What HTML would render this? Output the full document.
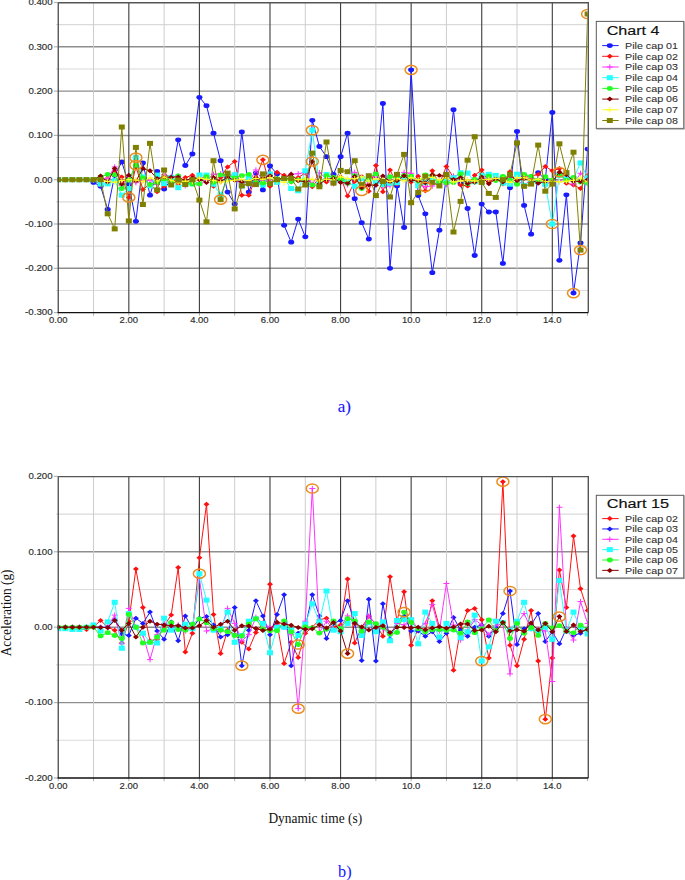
<!DOCTYPE html>
<html><head><meta charset="utf-8"><style>
html,body{margin:0;padding:0;background:#fff;}
body{width:685px;height:880px;overflow:hidden;font-family:"Liberation Sans",sans-serif;}
svg{display:block;}
</style></head><body>
<svg width="685" height="880" viewBox="0 0 685 880">
<rect width="685" height="880" fill="#fff"/>
<rect x="58.25" y="2.5" width="530.05" height="310.1" fill="#fff"/><line x1="58.25" y1="24.65" x2="588.3" y2="24.65" stroke="#dadada" stroke-width="1.1"/><line x1="58.25" y1="46.80" x2="588.3" y2="46.80" stroke="#8e8e8e" stroke-width="1.45"/><line x1="58.25" y1="68.95" x2="588.3" y2="68.95" stroke="#dadada" stroke-width="1.1"/><line x1="58.25" y1="91.10" x2="588.3" y2="91.10" stroke="#8e8e8e" stroke-width="1.45"/><line x1="58.25" y1="113.25" x2="588.3" y2="113.25" stroke="#dadada" stroke-width="1.1"/><line x1="58.25" y1="135.40" x2="588.3" y2="135.40" stroke="#8e8e8e" stroke-width="1.45"/><line x1="58.25" y1="157.55" x2="588.3" y2="157.55" stroke="#dadada" stroke-width="1.1"/><line x1="58.25" y1="179.70" x2="588.3" y2="179.70" stroke="#8e8e8e" stroke-width="1.45"/><line x1="58.25" y1="201.85" x2="588.3" y2="201.85" stroke="#dadada" stroke-width="1.1"/><line x1="58.25" y1="224.00" x2="588.3" y2="224.00" stroke="#8e8e8e" stroke-width="1.45"/><line x1="58.25" y1="246.15" x2="588.3" y2="246.15" stroke="#dadada" stroke-width="1.1"/><line x1="58.25" y1="268.30" x2="588.3" y2="268.30" stroke="#8e8e8e" stroke-width="1.45"/><line x1="58.25" y1="290.45" x2="588.3" y2="290.45" stroke="#dadada" stroke-width="1.1"/><line x1="93.54" y1="2.5" x2="93.54" y2="312.6" stroke="#cdcdcd" stroke-width="1.0"/><line x1="128.83" y1="2.5" x2="128.83" y2="312.6" stroke="#3c3c3c" stroke-width="1.1"/><line x1="164.12" y1="2.5" x2="164.12" y2="312.6" stroke="#cdcdcd" stroke-width="1.0"/><line x1="199.41" y1="2.5" x2="199.41" y2="312.6" stroke="#3c3c3c" stroke-width="1.1"/><line x1="234.70" y1="2.5" x2="234.70" y2="312.6" stroke="#cdcdcd" stroke-width="1.0"/><line x1="269.99" y1="2.5" x2="269.99" y2="312.6" stroke="#3c3c3c" stroke-width="1.1"/><line x1="305.28" y1="2.5" x2="305.28" y2="312.6" stroke="#cdcdcd" stroke-width="1.0"/><line x1="340.57" y1="2.5" x2="340.57" y2="312.6" stroke="#3c3c3c" stroke-width="1.1"/><line x1="375.86" y1="2.5" x2="375.86" y2="312.6" stroke="#cdcdcd" stroke-width="1.0"/><line x1="411.15" y1="2.5" x2="411.15" y2="312.6" stroke="#3c3c3c" stroke-width="1.1"/><line x1="446.44" y1="2.5" x2="446.44" y2="312.6" stroke="#cdcdcd" stroke-width="1.0"/><line x1="481.73" y1="2.5" x2="481.73" y2="312.6" stroke="#3c3c3c" stroke-width="1.1"/><line x1="517.02" y1="2.5" x2="517.02" y2="312.6" stroke="#cdcdcd" stroke-width="1.0"/><line x1="552.31" y1="2.5" x2="552.31" y2="312.6" stroke="#3c3c3c" stroke-width="1.1"/><line x1="53.9" y1="2.50" x2="58.25" y2="2.50" stroke="#b4b4b4" stroke-width="1.2"/><line x1="55.9" y1="24.65" x2="58.25" y2="24.65" stroke="#d4d4d4" stroke-width="1"/><line x1="53.9" y1="46.80" x2="58.25" y2="46.80" stroke="#b4b4b4" stroke-width="1.2"/><line x1="55.9" y1="68.95" x2="58.25" y2="68.95" stroke="#d4d4d4" stroke-width="1"/><line x1="53.9" y1="91.10" x2="58.25" y2="91.10" stroke="#b4b4b4" stroke-width="1.2"/><line x1="55.9" y1="113.25" x2="58.25" y2="113.25" stroke="#d4d4d4" stroke-width="1"/><line x1="53.9" y1="135.40" x2="58.25" y2="135.40" stroke="#b4b4b4" stroke-width="1.2"/><line x1="55.9" y1="157.55" x2="58.25" y2="157.55" stroke="#d4d4d4" stroke-width="1"/><line x1="53.9" y1="179.70" x2="58.25" y2="179.70" stroke="#b4b4b4" stroke-width="1.2"/><line x1="55.9" y1="201.85" x2="58.25" y2="201.85" stroke="#d4d4d4" stroke-width="1"/><line x1="53.9" y1="224.00" x2="58.25" y2="224.00" stroke="#b4b4b4" stroke-width="1.2"/><line x1="55.9" y1="246.15" x2="58.25" y2="246.15" stroke="#d4d4d4" stroke-width="1"/><line x1="53.9" y1="268.30" x2="58.25" y2="268.30" stroke="#b4b4b4" stroke-width="1.2"/><line x1="55.9" y1="290.45" x2="58.25" y2="290.45" stroke="#d4d4d4" stroke-width="1"/><line x1="53.9" y1="312.60" x2="58.25" y2="312.60" stroke="#b4b4b4" stroke-width="1.2"/><line x1="58.25" y1="312.6" x2="58.25" y2="315.8" stroke="#b0b0b0" stroke-width="1"/><line x1="93.54" y1="312.6" x2="93.54" y2="315.8" stroke="#b0b0b0" stroke-width="1"/><line x1="128.83" y1="312.6" x2="128.83" y2="315.8" stroke="#b0b0b0" stroke-width="1"/><line x1="164.12" y1="312.6" x2="164.12" y2="315.8" stroke="#b0b0b0" stroke-width="1"/><line x1="199.41" y1="312.6" x2="199.41" y2="315.8" stroke="#b0b0b0" stroke-width="1"/><line x1="234.70" y1="312.6" x2="234.70" y2="315.8" stroke="#b0b0b0" stroke-width="1"/><line x1="269.99" y1="312.6" x2="269.99" y2="315.8" stroke="#b0b0b0" stroke-width="1"/><line x1="305.28" y1="312.6" x2="305.28" y2="315.8" stroke="#b0b0b0" stroke-width="1"/><line x1="340.57" y1="312.6" x2="340.57" y2="315.8" stroke="#b0b0b0" stroke-width="1"/><line x1="375.86" y1="312.6" x2="375.86" y2="315.8" stroke="#b0b0b0" stroke-width="1"/><line x1="411.15" y1="312.6" x2="411.15" y2="315.8" stroke="#b0b0b0" stroke-width="1"/><line x1="446.44" y1="312.6" x2="446.44" y2="315.8" stroke="#b0b0b0" stroke-width="1"/><line x1="481.73" y1="312.6" x2="481.73" y2="315.8" stroke="#b0b0b0" stroke-width="1"/><line x1="517.02" y1="312.6" x2="517.02" y2="315.8" stroke="#b0b0b0" stroke-width="1"/><line x1="552.31" y1="312.6" x2="552.31" y2="315.8" stroke="#b0b0b0" stroke-width="1"/><line x1="587.60" y1="312.6" x2="587.60" y2="315.8" stroke="#b0b0b0" stroke-width="1"/><clipPath id="clip2"><rect x="57.75" y="-3.5" width="529.85" height="322.1"/></clipPath><g clip-path="url(#clip2)"><polyline points="58.2,179.7 65.3,179.7 72.4,179.7 79.4,179.7 86.5,179.7 93.5,182.4 100.6,186.3 107.7,209.4 114.7,175.3 121.8,162.0 128.8,184.1 135.9,221.3 142.9,162.9 150.0,195.2 157.1,171.3 164.1,189.0 171.2,179.7 178.2,139.8 185.3,165.5 192.4,154.0 199.4,97.3 206.5,105.7 213.5,133.2 220.6,160.7 227.6,192.1 234.7,204.1 241.8,131.9 248.8,192.1 255.9,173.1 262.9,189.9 270.0,166.0 277.0,173.9 284.1,225.3 291.2,242.2 298.2,219.1 305.3,236.8 312.3,120.3 319.4,146.5 326.5,156.7 333.5,174.4 340.6,156.7 347.6,133.2 354.7,198.7 361.7,222.7 368.8,239.1 375.9,175.7 382.9,103.5 390.0,268.3 397.0,185.9 404.1,227.5 411.1,69.8 418.2,195.6 425.3,213.8 432.3,272.7 439.4,230.2 446.4,175.7 453.5,109.7 460.6,183.7 467.6,208.5 474.7,255.5 481.7,204.1 488.8,212.0 495.8,212.0 502.9,263.4 510.0,187.7 517.0,131.4 524.1,205.4 531.1,234.2 538.2,172.6 545.3,179.7 552.3,112.4 559.4,260.3 566.4,194.8 573.5,293.1 580.5,243.0 587.6,149.1" fill="none" stroke="#1a1aff" stroke-width="1.0" stroke-linejoin="round"/><ellipse cx="58.2" cy="179.7" rx="3.0" ry="2.4" fill="#1a1aff"/><ellipse cx="65.3" cy="179.7" rx="3.0" ry="2.4" fill="#1a1aff"/><ellipse cx="72.4" cy="179.7" rx="3.0" ry="2.4" fill="#1a1aff"/><ellipse cx="79.4" cy="179.7" rx="3.0" ry="2.4" fill="#1a1aff"/><ellipse cx="86.5" cy="179.7" rx="3.0" ry="2.4" fill="#1a1aff"/><ellipse cx="93.5" cy="182.4" rx="3.0" ry="2.4" fill="#1a1aff"/><ellipse cx="100.6" cy="186.3" rx="3.0" ry="2.4" fill="#1a1aff"/><ellipse cx="107.7" cy="209.4" rx="3.0" ry="2.4" fill="#1a1aff"/><ellipse cx="114.7" cy="175.3" rx="3.0" ry="2.4" fill="#1a1aff"/><ellipse cx="121.8" cy="162.0" rx="3.0" ry="2.4" fill="#1a1aff"/><ellipse cx="128.8" cy="184.1" rx="3.0" ry="2.4" fill="#1a1aff"/><ellipse cx="135.9" cy="221.3" rx="3.0" ry="2.4" fill="#1a1aff"/><ellipse cx="142.9" cy="162.9" rx="3.0" ry="2.4" fill="#1a1aff"/><ellipse cx="150.0" cy="195.2" rx="3.0" ry="2.4" fill="#1a1aff"/><ellipse cx="157.1" cy="171.3" rx="3.0" ry="2.4" fill="#1a1aff"/><ellipse cx="164.1" cy="189.0" rx="3.0" ry="2.4" fill="#1a1aff"/><ellipse cx="171.2" cy="179.7" rx="3.0" ry="2.4" fill="#1a1aff"/><ellipse cx="178.2" cy="139.8" rx="3.0" ry="2.4" fill="#1a1aff"/><ellipse cx="185.3" cy="165.5" rx="3.0" ry="2.4" fill="#1a1aff"/><ellipse cx="192.4" cy="154.0" rx="3.0" ry="2.4" fill="#1a1aff"/><ellipse cx="199.4" cy="97.3" rx="3.0" ry="2.4" fill="#1a1aff"/><ellipse cx="206.5" cy="105.7" rx="3.0" ry="2.4" fill="#1a1aff"/><ellipse cx="213.5" cy="133.2" rx="3.0" ry="2.4" fill="#1a1aff"/><ellipse cx="220.6" cy="160.7" rx="3.0" ry="2.4" fill="#1a1aff"/><ellipse cx="227.6" cy="192.1" rx="3.0" ry="2.4" fill="#1a1aff"/><ellipse cx="234.7" cy="204.1" rx="3.0" ry="2.4" fill="#1a1aff"/><ellipse cx="241.8" cy="131.9" rx="3.0" ry="2.4" fill="#1a1aff"/><ellipse cx="248.8" cy="192.1" rx="3.0" ry="2.4" fill="#1a1aff"/><ellipse cx="255.9" cy="173.1" rx="3.0" ry="2.4" fill="#1a1aff"/><ellipse cx="262.9" cy="189.9" rx="3.0" ry="2.4" fill="#1a1aff"/><ellipse cx="270.0" cy="166.0" rx="3.0" ry="2.4" fill="#1a1aff"/><ellipse cx="277.0" cy="173.9" rx="3.0" ry="2.4" fill="#1a1aff"/><ellipse cx="284.1" cy="225.3" rx="3.0" ry="2.4" fill="#1a1aff"/><ellipse cx="291.2" cy="242.2" rx="3.0" ry="2.4" fill="#1a1aff"/><ellipse cx="298.2" cy="219.1" rx="3.0" ry="2.4" fill="#1a1aff"/><ellipse cx="305.3" cy="236.8" rx="3.0" ry="2.4" fill="#1a1aff"/><ellipse cx="312.3" cy="120.3" rx="3.0" ry="2.4" fill="#1a1aff"/><ellipse cx="319.4" cy="146.5" rx="3.0" ry="2.4" fill="#1a1aff"/><ellipse cx="326.5" cy="156.7" rx="3.0" ry="2.4" fill="#1a1aff"/><ellipse cx="333.5" cy="174.4" rx="3.0" ry="2.4" fill="#1a1aff"/><ellipse cx="340.6" cy="156.7" rx="3.0" ry="2.4" fill="#1a1aff"/><ellipse cx="347.6" cy="133.2" rx="3.0" ry="2.4" fill="#1a1aff"/><ellipse cx="354.7" cy="198.7" rx="3.0" ry="2.4" fill="#1a1aff"/><ellipse cx="361.7" cy="222.7" rx="3.0" ry="2.4" fill="#1a1aff"/><ellipse cx="368.8" cy="239.1" rx="3.0" ry="2.4" fill="#1a1aff"/><ellipse cx="375.9" cy="175.7" rx="3.0" ry="2.4" fill="#1a1aff"/><ellipse cx="382.9" cy="103.5" rx="3.0" ry="2.4" fill="#1a1aff"/><ellipse cx="390.0" cy="268.3" rx="3.0" ry="2.4" fill="#1a1aff"/><ellipse cx="397.0" cy="185.9" rx="3.0" ry="2.4" fill="#1a1aff"/><ellipse cx="404.1" cy="227.5" rx="3.0" ry="2.4" fill="#1a1aff"/><ellipse cx="411.1" cy="69.8" rx="3.0" ry="2.4" fill="#1a1aff"/><ellipse cx="418.2" cy="195.6" rx="3.0" ry="2.4" fill="#1a1aff"/><ellipse cx="425.3" cy="213.8" rx="3.0" ry="2.4" fill="#1a1aff"/><ellipse cx="432.3" cy="272.7" rx="3.0" ry="2.4" fill="#1a1aff"/><ellipse cx="439.4" cy="230.2" rx="3.0" ry="2.4" fill="#1a1aff"/><ellipse cx="446.4" cy="175.7" rx="3.0" ry="2.4" fill="#1a1aff"/><ellipse cx="453.5" cy="109.7" rx="3.0" ry="2.4" fill="#1a1aff"/><ellipse cx="460.6" cy="183.7" rx="3.0" ry="2.4" fill="#1a1aff"/><ellipse cx="467.6" cy="208.5" rx="3.0" ry="2.4" fill="#1a1aff"/><ellipse cx="474.7" cy="255.5" rx="3.0" ry="2.4" fill="#1a1aff"/><ellipse cx="481.7" cy="204.1" rx="3.0" ry="2.4" fill="#1a1aff"/><ellipse cx="488.8" cy="212.0" rx="3.0" ry="2.4" fill="#1a1aff"/><ellipse cx="495.8" cy="212.0" rx="3.0" ry="2.4" fill="#1a1aff"/><ellipse cx="502.9" cy="263.4" rx="3.0" ry="2.4" fill="#1a1aff"/><ellipse cx="510.0" cy="187.7" rx="3.0" ry="2.4" fill="#1a1aff"/><ellipse cx="517.0" cy="131.4" rx="3.0" ry="2.4" fill="#1a1aff"/><ellipse cx="524.1" cy="205.4" rx="3.0" ry="2.4" fill="#1a1aff"/><ellipse cx="531.1" cy="234.2" rx="3.0" ry="2.4" fill="#1a1aff"/><ellipse cx="538.2" cy="172.6" rx="3.0" ry="2.4" fill="#1a1aff"/><ellipse cx="545.3" cy="179.7" rx="3.0" ry="2.4" fill="#1a1aff"/><ellipse cx="552.3" cy="112.4" rx="3.0" ry="2.4" fill="#1a1aff"/><ellipse cx="559.4" cy="260.3" rx="3.0" ry="2.4" fill="#1a1aff"/><ellipse cx="566.4" cy="194.8" rx="3.0" ry="2.4" fill="#1a1aff"/><ellipse cx="573.5" cy="293.1" rx="3.0" ry="2.4" fill="#1a1aff"/><ellipse cx="580.5" cy="243.0" rx="3.0" ry="2.4" fill="#1a1aff"/><ellipse cx="587.6" cy="149.1" rx="3.0" ry="2.4" fill="#1a1aff"/><polyline points="58.2,179.7 65.3,179.7 72.4,179.7 79.4,179.7 86.5,179.7 93.5,179.7 100.6,185.0 107.7,175.3 114.7,170.8 121.8,177.0 128.8,197.4 135.9,166.4 142.9,189.4 150.0,184.1 157.1,191.7 164.1,186.3 171.2,177.5 178.2,184.1 185.3,177.5 192.4,175.3 199.4,179.7 206.5,175.3 213.5,186.3 220.6,177.5 227.6,166.9 234.7,161.5 241.8,195.2 248.8,195.2 255.9,177.5 262.9,159.8 270.0,186.3 277.0,172.2 284.1,175.3 291.2,181.9 298.2,177.5 305.3,173.1 312.3,186.8 319.4,177.5 326.5,181.9 333.5,177.9 340.6,177.0 347.6,196.1 354.7,181.5 361.7,176.6 368.8,191.2 375.9,165.5 382.9,191.7 390.0,170.0 397.0,184.1 404.1,175.3 411.1,181.9 418.2,176.2 425.3,190.8 432.3,170.8 439.4,184.1 446.4,166.4 453.5,177.5 460.6,185.0 467.6,185.9 474.7,175.3 481.7,170.0 488.8,181.9 495.8,177.9 502.9,184.1 510.0,171.7 517.0,183.2 524.1,177.5 531.1,176.2 538.2,174.4 545.3,166.4 552.3,170.8 559.4,168.6 566.4,183.2 573.5,185.0 580.5,188.6 587.6,175.3" fill="none" stroke="#ff1010" stroke-width="1.0" stroke-linejoin="round"/><path d="M55.2 179.7L58.2 177.2L61.2 179.7L58.2 182.2Z" fill="#ff1010"/><path d="M62.3 179.7L65.3 177.2L68.3 179.7L65.3 182.2Z" fill="#ff1010"/><path d="M69.4 179.7L72.4 177.2L75.4 179.7L72.4 182.2Z" fill="#ff1010"/><path d="M76.4 179.7L79.4 177.2L82.4 179.7L79.4 182.2Z" fill="#ff1010"/><path d="M83.5 179.7L86.5 177.2L89.5 179.7L86.5 182.2Z" fill="#ff1010"/><path d="M90.5 179.7L93.5 177.2L96.5 179.7L93.5 182.2Z" fill="#ff1010"/><path d="M97.6 185.0L100.6 182.5L103.6 185.0L100.6 187.5Z" fill="#ff1010"/><path d="M104.7 175.3L107.7 172.8L110.7 175.3L107.7 177.8Z" fill="#ff1010"/><path d="M111.7 170.8L114.7 168.3L117.7 170.8L114.7 173.3Z" fill="#ff1010"/><path d="M118.8 177.0L121.8 174.5L124.8 177.0L121.8 179.5Z" fill="#ff1010"/><path d="M125.8 197.4L128.8 194.9L131.8 197.4L128.8 199.9Z" fill="#ff1010"/><path d="M132.9 166.4L135.9 163.9L138.9 166.4L135.9 168.9Z" fill="#ff1010"/><path d="M139.9 189.4L142.9 186.9L145.9 189.4L142.9 191.9Z" fill="#ff1010"/><path d="M147.0 184.1L150.0 181.6L153.0 184.1L150.0 186.6Z" fill="#ff1010"/><path d="M154.1 191.7L157.1 189.2L160.1 191.7L157.1 194.2Z" fill="#ff1010"/><path d="M161.1 186.3L164.1 183.8L167.1 186.3L164.1 188.8Z" fill="#ff1010"/><path d="M168.2 177.5L171.2 175.0L174.2 177.5L171.2 180.0Z" fill="#ff1010"/><path d="M175.2 184.1L178.2 181.6L181.2 184.1L178.2 186.6Z" fill="#ff1010"/><path d="M182.3 177.5L185.3 175.0L188.3 177.5L185.3 180.0Z" fill="#ff1010"/><path d="M189.4 175.3L192.4 172.8L195.4 175.3L192.4 177.8Z" fill="#ff1010"/><path d="M196.4 179.7L199.4 177.2L202.4 179.7L199.4 182.2Z" fill="#ff1010"/><path d="M203.5 175.3L206.5 172.8L209.5 175.3L206.5 177.8Z" fill="#ff1010"/><path d="M210.5 186.3L213.5 183.8L216.5 186.3L213.5 188.8Z" fill="#ff1010"/><path d="M217.6 177.5L220.6 175.0L223.6 177.5L220.6 180.0Z" fill="#ff1010"/><path d="M224.6 166.9L227.6 164.4L230.6 166.9L227.6 169.4Z" fill="#ff1010"/><path d="M231.7 161.5L234.7 159.0L237.7 161.5L234.7 164.0Z" fill="#ff1010"/><path d="M238.8 195.2L241.8 192.7L244.8 195.2L241.8 197.7Z" fill="#ff1010"/><path d="M245.8 195.2L248.8 192.7L251.8 195.2L248.8 197.7Z" fill="#ff1010"/><path d="M252.9 177.5L255.9 175.0L258.9 177.5L255.9 180.0Z" fill="#ff1010"/><path d="M259.9 159.8L262.9 157.3L265.9 159.8L262.9 162.3Z" fill="#ff1010"/><path d="M267.0 186.3L270.0 183.8L273.0 186.3L270.0 188.8Z" fill="#ff1010"/><path d="M274.0 172.2L277.0 169.7L280.0 172.2L277.0 174.7Z" fill="#ff1010"/><path d="M281.1 175.3L284.1 172.8L287.1 175.3L284.1 177.8Z" fill="#ff1010"/><path d="M288.2 181.9L291.2 179.4L294.2 181.9L291.2 184.4Z" fill="#ff1010"/><path d="M295.2 177.5L298.2 175.0L301.2 177.5L298.2 180.0Z" fill="#ff1010"/><path d="M302.3 173.1L305.3 170.6L308.3 173.1L305.3 175.6Z" fill="#ff1010"/><path d="M309.3 186.8L312.3 184.3L315.3 186.8L312.3 189.3Z" fill="#ff1010"/><path d="M316.4 177.5L319.4 175.0L322.4 177.5L319.4 180.0Z" fill="#ff1010"/><path d="M323.5 181.9L326.5 179.4L329.5 181.9L326.5 184.4Z" fill="#ff1010"/><path d="M330.5 177.9L333.5 175.4L336.5 177.9L333.5 180.4Z" fill="#ff1010"/><path d="M337.6 177.0L340.6 174.5L343.6 177.0L340.6 179.5Z" fill="#ff1010"/><path d="M344.6 196.1L347.6 193.6L350.6 196.1L347.6 198.6Z" fill="#ff1010"/><path d="M351.7 181.5L354.7 179.0L357.7 181.5L354.7 184.0Z" fill="#ff1010"/><path d="M358.7 176.6L361.7 174.1L364.7 176.6L361.7 179.1Z" fill="#ff1010"/><path d="M365.8 191.2L368.8 188.7L371.8 191.2L368.8 193.7Z" fill="#ff1010"/><path d="M372.9 165.5L375.9 163.0L378.9 165.5L375.9 168.0Z" fill="#ff1010"/><path d="M379.9 191.7L382.9 189.2L385.9 191.7L382.9 194.2Z" fill="#ff1010"/><path d="M387.0 170.0L390.0 167.5L393.0 170.0L390.0 172.5Z" fill="#ff1010"/><path d="M394.0 184.1L397.0 181.6L400.0 184.1L397.0 186.6Z" fill="#ff1010"/><path d="M401.1 175.3L404.1 172.8L407.1 175.3L404.1 177.8Z" fill="#ff1010"/><path d="M408.1 181.9L411.1 179.4L414.1 181.9L411.1 184.4Z" fill="#ff1010"/><path d="M415.2 176.2L418.2 173.7L421.2 176.2L418.2 178.7Z" fill="#ff1010"/><path d="M422.3 190.8L425.3 188.3L428.3 190.8L425.3 193.3Z" fill="#ff1010"/><path d="M429.3 170.8L432.3 168.3L435.3 170.8L432.3 173.3Z" fill="#ff1010"/><path d="M436.4 184.1L439.4 181.6L442.4 184.1L439.4 186.6Z" fill="#ff1010"/><path d="M443.4 166.4L446.4 163.9L449.4 166.4L446.4 168.9Z" fill="#ff1010"/><path d="M450.5 177.5L453.5 175.0L456.5 177.5L453.5 180.0Z" fill="#ff1010"/><path d="M457.6 185.0L460.6 182.5L463.6 185.0L460.6 187.5Z" fill="#ff1010"/><path d="M464.6 185.9L467.6 183.4L470.6 185.9L467.6 188.4Z" fill="#ff1010"/><path d="M471.7 175.3L474.7 172.8L477.7 175.3L474.7 177.8Z" fill="#ff1010"/><path d="M478.7 170.0L481.7 167.5L484.7 170.0L481.7 172.5Z" fill="#ff1010"/><path d="M485.8 181.9L488.8 179.4L491.8 181.9L488.8 184.4Z" fill="#ff1010"/><path d="M492.8 177.9L495.8 175.4L498.8 177.9L495.8 180.4Z" fill="#ff1010"/><path d="M499.9 184.1L502.9 181.6L505.9 184.1L502.9 186.6Z" fill="#ff1010"/><path d="M507.0 171.7L510.0 169.2L513.0 171.7L510.0 174.2Z" fill="#ff1010"/><path d="M514.0 183.2L517.0 180.7L520.0 183.2L517.0 185.7Z" fill="#ff1010"/><path d="M521.1 177.5L524.1 175.0L527.1 177.5L524.1 180.0Z" fill="#ff1010"/><path d="M528.1 176.2L531.1 173.7L534.1 176.2L531.1 178.7Z" fill="#ff1010"/><path d="M535.2 174.4L538.2 171.9L541.2 174.4L538.2 176.9Z" fill="#ff1010"/><path d="M542.3 166.4L545.3 163.9L548.3 166.4L545.3 168.9Z" fill="#ff1010"/><path d="M549.3 170.8L552.3 168.3L555.3 170.8L552.3 173.3Z" fill="#ff1010"/><path d="M556.4 168.6L559.4 166.1L562.4 168.6L559.4 171.1Z" fill="#ff1010"/><path d="M563.4 183.2L566.4 180.7L569.4 183.2L566.4 185.7Z" fill="#ff1010"/><path d="M570.5 185.0L573.5 182.5L576.5 185.0L573.5 187.5Z" fill="#ff1010"/><path d="M577.5 188.6L580.5 186.1L583.5 188.6L580.5 191.1Z" fill="#ff1010"/><path d="M584.6 175.3L587.6 172.8L590.6 175.3L587.6 177.8Z" fill="#ff1010"/><polyline points="58.2,179.7 65.3,179.7 72.4,179.7 79.4,179.7 86.5,179.7 93.5,179.7 100.6,179.2 107.7,178.5 114.7,166.9 121.8,185.6 128.8,176.4 135.9,182.7 142.9,180.2 150.0,180.1 157.1,184.5 164.1,174.7 171.2,176.6 178.2,176.2 185.3,185.7 192.4,178.4 199.4,185.1 206.5,180.1 213.5,174.3 220.6,173.8 227.6,176.1 234.7,174.3 241.8,185.8 248.8,182.7 255.9,170.0 262.9,180.7 270.0,182.4 277.0,181.2 284.1,178.7 291.2,174.3 298.2,173.7 305.3,172.3 312.3,184.4 319.4,172.7 326.5,178.6 333.5,183.8 340.6,178.6 347.6,184.7 354.7,172.3 361.7,176.7 368.8,184.0 375.9,176.6 382.9,186.6 390.0,185.8 397.0,182.1 404.1,172.4 411.1,173.3 418.2,184.6 425.3,186.8 432.3,186.0 439.4,180.7 446.4,184.3 453.5,176.1 460.6,174.4 467.6,181.6 474.7,179.4 481.7,178.4 488.8,178.1 495.8,179.6 502.9,177.0 510.0,181.9 517.0,179.4 524.1,186.1 531.1,178.7 538.2,178.6 545.3,185.7 552.3,180.2 559.4,181.7 566.4,176.3 573.5,184.0 580.5,173.3 587.6,180.2" fill="none" stroke="#ff33ff" stroke-width="1.0" stroke-linejoin="round"/><path d="M55.2 179.7H61.2M58.2 177.0V182.4" stroke="#ff33ff" stroke-width="1" fill="none"/><path d="M62.3 179.7H68.3M65.3 177.0V182.4" stroke="#ff33ff" stroke-width="1" fill="none"/><path d="M69.4 179.7H75.4M72.4 177.0V182.4" stroke="#ff33ff" stroke-width="1" fill="none"/><path d="M76.4 179.7H82.4M79.4 177.0V182.4" stroke="#ff33ff" stroke-width="1" fill="none"/><path d="M83.5 179.7H89.5M86.5 177.0V182.4" stroke="#ff33ff" stroke-width="1" fill="none"/><path d="M90.5 179.7H96.5M93.5 177.0V182.4" stroke="#ff33ff" stroke-width="1" fill="none"/><path d="M97.6 179.2H103.6M100.6 176.5V181.9" stroke="#ff33ff" stroke-width="1" fill="none"/><path d="M104.7 178.5H110.7M107.7 175.8V181.2" stroke="#ff33ff" stroke-width="1" fill="none"/><path d="M111.7 166.9H117.7M114.7 164.2V169.6" stroke="#ff33ff" stroke-width="1" fill="none"/><path d="M118.8 185.6H124.8M121.8 182.9V188.3" stroke="#ff33ff" stroke-width="1" fill="none"/><path d="M125.8 176.4H131.8M128.8 173.7V179.1" stroke="#ff33ff" stroke-width="1" fill="none"/><path d="M132.9 182.7H138.9M135.9 180.0V185.4" stroke="#ff33ff" stroke-width="1" fill="none"/><path d="M139.9 180.2H145.9M142.9 177.5V182.9" stroke="#ff33ff" stroke-width="1" fill="none"/><path d="M147.0 180.1H153.0M150.0 177.4V182.8" stroke="#ff33ff" stroke-width="1" fill="none"/><path d="M154.1 184.5H160.1M157.1 181.8V187.2" stroke="#ff33ff" stroke-width="1" fill="none"/><path d="M161.1 174.7H167.1M164.1 172.0V177.4" stroke="#ff33ff" stroke-width="1" fill="none"/><path d="M168.2 176.6H174.2M171.2 173.9V179.3" stroke="#ff33ff" stroke-width="1" fill="none"/><path d="M175.2 176.2H181.2M178.2 173.5V178.9" stroke="#ff33ff" stroke-width="1" fill="none"/><path d="M182.3 185.7H188.3M185.3 183.0V188.4" stroke="#ff33ff" stroke-width="1" fill="none"/><path d="M189.4 178.4H195.4M192.4 175.7V181.1" stroke="#ff33ff" stroke-width="1" fill="none"/><path d="M196.4 185.1H202.4M199.4 182.4V187.8" stroke="#ff33ff" stroke-width="1" fill="none"/><path d="M203.5 180.1H209.5M206.5 177.4V182.8" stroke="#ff33ff" stroke-width="1" fill="none"/><path d="M210.5 174.3H216.5M213.5 171.6V177.0" stroke="#ff33ff" stroke-width="1" fill="none"/><path d="M217.6 173.8H223.6M220.6 171.1V176.5" stroke="#ff33ff" stroke-width="1" fill="none"/><path d="M224.6 176.1H230.6M227.6 173.4V178.8" stroke="#ff33ff" stroke-width="1" fill="none"/><path d="M231.7 174.3H237.7M234.7 171.6V177.0" stroke="#ff33ff" stroke-width="1" fill="none"/><path d="M238.8 185.8H244.8M241.8 183.1V188.5" stroke="#ff33ff" stroke-width="1" fill="none"/><path d="M245.8 182.7H251.8M248.8 180.0V185.4" stroke="#ff33ff" stroke-width="1" fill="none"/><path d="M252.9 170.0H258.9M255.9 167.3V172.7" stroke="#ff33ff" stroke-width="1" fill="none"/><path d="M259.9 180.7H265.9M262.9 178.0V183.4" stroke="#ff33ff" stroke-width="1" fill="none"/><path d="M267.0 182.4H273.0M270.0 179.7V185.1" stroke="#ff33ff" stroke-width="1" fill="none"/><path d="M274.0 181.2H280.0M277.0 178.5V183.9" stroke="#ff33ff" stroke-width="1" fill="none"/><path d="M281.1 178.7H287.1M284.1 176.0V181.4" stroke="#ff33ff" stroke-width="1" fill="none"/><path d="M288.2 174.3H294.2M291.2 171.6V177.0" stroke="#ff33ff" stroke-width="1" fill="none"/><path d="M295.2 173.7H301.2M298.2 171.0V176.4" stroke="#ff33ff" stroke-width="1" fill="none"/><path d="M302.3 172.3H308.3M305.3 169.6V175.0" stroke="#ff33ff" stroke-width="1" fill="none"/><path d="M309.3 184.4H315.3M312.3 181.7V187.1" stroke="#ff33ff" stroke-width="1" fill="none"/><path d="M316.4 172.7H322.4M319.4 170.0V175.4" stroke="#ff33ff" stroke-width="1" fill="none"/><path d="M323.5 178.6H329.5M326.5 175.9V181.3" stroke="#ff33ff" stroke-width="1" fill="none"/><path d="M330.5 183.8H336.5M333.5 181.1V186.5" stroke="#ff33ff" stroke-width="1" fill="none"/><path d="M337.6 178.6H343.6M340.6 175.9V181.3" stroke="#ff33ff" stroke-width="1" fill="none"/><path d="M344.6 184.7H350.6M347.6 182.0V187.4" stroke="#ff33ff" stroke-width="1" fill="none"/><path d="M351.7 172.3H357.7M354.7 169.6V175.0" stroke="#ff33ff" stroke-width="1" fill="none"/><path d="M358.7 176.7H364.7M361.7 174.0V179.4" stroke="#ff33ff" stroke-width="1" fill="none"/><path d="M365.8 184.0H371.8M368.8 181.3V186.7" stroke="#ff33ff" stroke-width="1" fill="none"/><path d="M372.9 176.6H378.9M375.9 173.9V179.3" stroke="#ff33ff" stroke-width="1" fill="none"/><path d="M379.9 186.6H385.9M382.9 183.9V189.3" stroke="#ff33ff" stroke-width="1" fill="none"/><path d="M387.0 185.8H393.0M390.0 183.1V188.5" stroke="#ff33ff" stroke-width="1" fill="none"/><path d="M394.0 182.1H400.0M397.0 179.4V184.8" stroke="#ff33ff" stroke-width="1" fill="none"/><path d="M401.1 172.4H407.1M404.1 169.7V175.1" stroke="#ff33ff" stroke-width="1" fill="none"/><path d="M408.1 173.3H414.1M411.1 170.6V176.0" stroke="#ff33ff" stroke-width="1" fill="none"/><path d="M415.2 184.6H421.2M418.2 181.9V187.3" stroke="#ff33ff" stroke-width="1" fill="none"/><path d="M422.3 186.8H428.3M425.3 184.1V189.5" stroke="#ff33ff" stroke-width="1" fill="none"/><path d="M429.3 186.0H435.3M432.3 183.3V188.7" stroke="#ff33ff" stroke-width="1" fill="none"/><path d="M436.4 180.7H442.4M439.4 178.0V183.4" stroke="#ff33ff" stroke-width="1" fill="none"/><path d="M443.4 184.3H449.4M446.4 181.6V187.0" stroke="#ff33ff" stroke-width="1" fill="none"/><path d="M450.5 176.1H456.5M453.5 173.4V178.8" stroke="#ff33ff" stroke-width="1" fill="none"/><path d="M457.6 174.4H463.6M460.6 171.7V177.1" stroke="#ff33ff" stroke-width="1" fill="none"/><path d="M464.6 181.6H470.6M467.6 178.9V184.3" stroke="#ff33ff" stroke-width="1" fill="none"/><path d="M471.7 179.4H477.7M474.7 176.7V182.1" stroke="#ff33ff" stroke-width="1" fill="none"/><path d="M478.7 178.4H484.7M481.7 175.7V181.1" stroke="#ff33ff" stroke-width="1" fill="none"/><path d="M485.8 178.1H491.8M488.8 175.4V180.8" stroke="#ff33ff" stroke-width="1" fill="none"/><path d="M492.8 179.6H498.8M495.8 176.9V182.3" stroke="#ff33ff" stroke-width="1" fill="none"/><path d="M499.9 177.0H505.9M502.9 174.3V179.7" stroke="#ff33ff" stroke-width="1" fill="none"/><path d="M507.0 181.9H513.0M510.0 179.2V184.6" stroke="#ff33ff" stroke-width="1" fill="none"/><path d="M514.0 179.4H520.0M517.0 176.7V182.1" stroke="#ff33ff" stroke-width="1" fill="none"/><path d="M521.1 186.1H527.1M524.1 183.4V188.8" stroke="#ff33ff" stroke-width="1" fill="none"/><path d="M528.1 178.7H534.1M531.1 176.0V181.4" stroke="#ff33ff" stroke-width="1" fill="none"/><path d="M535.2 178.6H541.2M538.2 175.9V181.3" stroke="#ff33ff" stroke-width="1" fill="none"/><path d="M542.3 185.7H548.3M545.3 183.0V188.4" stroke="#ff33ff" stroke-width="1" fill="none"/><path d="M549.3 180.2H555.3M552.3 177.5V182.9" stroke="#ff33ff" stroke-width="1" fill="none"/><path d="M556.4 181.7H562.4M559.4 179.0V184.4" stroke="#ff33ff" stroke-width="1" fill="none"/><path d="M563.4 176.3H569.4M566.4 173.6V179.0" stroke="#ff33ff" stroke-width="1" fill="none"/><path d="M570.5 184.0H576.5M573.5 181.3V186.7" stroke="#ff33ff" stroke-width="1" fill="none"/><path d="M577.5 173.3H583.5M580.5 170.6V176.0" stroke="#ff33ff" stroke-width="1" fill="none"/><path d="M584.6 180.2H590.6M587.6 177.5V182.9" stroke="#ff33ff" stroke-width="1" fill="none"/><polyline points="58.2,179.7 65.3,179.7 72.4,179.7 79.4,179.7 86.5,179.7 93.5,179.7 100.6,184.1 107.7,183.9 114.7,180.7 121.8,195.2 128.8,188.6 135.9,157.6 142.9,177.0 150.0,185.9 157.1,175.1 164.1,183.7 171.2,177.5 178.2,187.7 185.3,182.6 192.4,183.9 199.4,175.0 206.5,175.1 213.5,184.2 220.6,194.8 227.6,178.2 234.7,174.7 241.8,186.0 248.8,177.4 255.9,183.8 262.9,184.9 270.0,174.0 277.0,182.3 284.1,178.6 291.2,188.6 298.2,190.8 305.3,170.8 312.3,130.1 319.4,184.1 326.5,174.4 333.5,180.8 340.6,180.6 347.6,181.8 354.7,186.4 361.7,178.5 368.8,179.3 375.9,181.7 382.9,184.5 390.0,183.3 397.0,182.7 404.1,176.8 411.1,179.0 418.2,185.8 425.3,182.4 432.3,178.0 439.4,181.6 446.4,180.1 453.5,177.8 460.6,172.7 467.6,173.1 474.7,181.7 481.7,175.4 488.8,174.3 495.8,175.4 502.9,183.2 510.0,184.2 517.0,174.2 524.1,185.4 531.1,183.0 538.2,181.7 545.3,184.3 552.3,224.0 559.4,175.3 566.4,177.5 573.5,178.8 580.5,162.9 587.6,177.9" fill="none" stroke="#22ffff" stroke-width="1.0" stroke-linejoin="round"/><rect x="55.2" y="177.2" width="6" height="5" fill="#22ffff"/><rect x="62.3" y="177.2" width="6" height="5" fill="#22ffff"/><rect x="69.4" y="177.2" width="6" height="5" fill="#22ffff"/><rect x="76.4" y="177.2" width="6" height="5" fill="#22ffff"/><rect x="83.5" y="177.2" width="6" height="5" fill="#22ffff"/><rect x="90.5" y="177.2" width="6" height="5" fill="#22ffff"/><rect x="97.6" y="181.6" width="6" height="5" fill="#22ffff"/><rect x="104.7" y="181.4" width="6" height="5" fill="#22ffff"/><rect x="111.7" y="178.2" width="6" height="5" fill="#22ffff"/><rect x="118.8" y="192.7" width="6" height="5" fill="#22ffff"/><rect x="125.8" y="186.1" width="6" height="5" fill="#22ffff"/><rect x="132.9" y="155.1" width="6" height="5" fill="#22ffff"/><rect x="139.9" y="174.5" width="6" height="5" fill="#22ffff"/><rect x="147.0" y="183.4" width="6" height="5" fill="#22ffff"/><rect x="154.1" y="172.6" width="6" height="5" fill="#22ffff"/><rect x="161.1" y="181.2" width="6" height="5" fill="#22ffff"/><rect x="168.2" y="175.0" width="6" height="5" fill="#22ffff"/><rect x="175.2" y="185.2" width="6" height="5" fill="#22ffff"/><rect x="182.3" y="180.1" width="6" height="5" fill="#22ffff"/><rect x="189.4" y="181.4" width="6" height="5" fill="#22ffff"/><rect x="196.4" y="172.5" width="6" height="5" fill="#22ffff"/><rect x="203.5" y="172.6" width="6" height="5" fill="#22ffff"/><rect x="210.5" y="181.7" width="6" height="5" fill="#22ffff"/><rect x="217.6" y="192.3" width="6" height="5" fill="#22ffff"/><rect x="224.6" y="175.7" width="6" height="5" fill="#22ffff"/><rect x="231.7" y="172.2" width="6" height="5" fill="#22ffff"/><rect x="238.8" y="183.5" width="6" height="5" fill="#22ffff"/><rect x="245.8" y="174.9" width="6" height="5" fill="#22ffff"/><rect x="252.9" y="181.3" width="6" height="5" fill="#22ffff"/><rect x="259.9" y="182.4" width="6" height="5" fill="#22ffff"/><rect x="267.0" y="171.5" width="6" height="5" fill="#22ffff"/><rect x="274.0" y="179.8" width="6" height="5" fill="#22ffff"/><rect x="281.1" y="176.1" width="6" height="5" fill="#22ffff"/><rect x="288.2" y="186.1" width="6" height="5" fill="#22ffff"/><rect x="295.2" y="188.3" width="6" height="5" fill="#22ffff"/><rect x="302.3" y="168.3" width="6" height="5" fill="#22ffff"/><rect x="309.3" y="127.6" width="6" height="5" fill="#22ffff"/><rect x="316.4" y="181.6" width="6" height="5" fill="#22ffff"/><rect x="323.5" y="171.9" width="6" height="5" fill="#22ffff"/><rect x="330.5" y="178.3" width="6" height="5" fill="#22ffff"/><rect x="337.6" y="178.1" width="6" height="5" fill="#22ffff"/><rect x="344.6" y="179.3" width="6" height="5" fill="#22ffff"/><rect x="351.7" y="183.9" width="6" height="5" fill="#22ffff"/><rect x="358.7" y="176.0" width="6" height="5" fill="#22ffff"/><rect x="365.8" y="176.8" width="6" height="5" fill="#22ffff"/><rect x="372.9" y="179.2" width="6" height="5" fill="#22ffff"/><rect x="379.9" y="182.0" width="6" height="5" fill="#22ffff"/><rect x="387.0" y="180.8" width="6" height="5" fill="#22ffff"/><rect x="394.0" y="180.2" width="6" height="5" fill="#22ffff"/><rect x="401.1" y="174.3" width="6" height="5" fill="#22ffff"/><rect x="408.1" y="176.5" width="6" height="5" fill="#22ffff"/><rect x="415.2" y="183.3" width="6" height="5" fill="#22ffff"/><rect x="422.3" y="179.9" width="6" height="5" fill="#22ffff"/><rect x="429.3" y="175.5" width="6" height="5" fill="#22ffff"/><rect x="436.4" y="179.1" width="6" height="5" fill="#22ffff"/><rect x="443.4" y="177.6" width="6" height="5" fill="#22ffff"/><rect x="450.5" y="175.3" width="6" height="5" fill="#22ffff"/><rect x="457.6" y="170.2" width="6" height="5" fill="#22ffff"/><rect x="464.6" y="170.6" width="6" height="5" fill="#22ffff"/><rect x="471.7" y="179.2" width="6" height="5" fill="#22ffff"/><rect x="478.7" y="172.9" width="6" height="5" fill="#22ffff"/><rect x="485.8" y="171.8" width="6" height="5" fill="#22ffff"/><rect x="492.8" y="172.9" width="6" height="5" fill="#22ffff"/><rect x="499.9" y="180.7" width="6" height="5" fill="#22ffff"/><rect x="507.0" y="181.7" width="6" height="5" fill="#22ffff"/><rect x="514.0" y="171.7" width="6" height="5" fill="#22ffff"/><rect x="521.1" y="182.9" width="6" height="5" fill="#22ffff"/><rect x="528.1" y="180.5" width="6" height="5" fill="#22ffff"/><rect x="535.2" y="179.2" width="6" height="5" fill="#22ffff"/><rect x="542.3" y="181.8" width="6" height="5" fill="#22ffff"/><rect x="549.3" y="221.5" width="6" height="5" fill="#22ffff"/><rect x="556.4" y="172.8" width="6" height="5" fill="#22ffff"/><rect x="563.4" y="175.0" width="6" height="5" fill="#22ffff"/><rect x="570.5" y="176.3" width="6" height="5" fill="#22ffff"/><rect x="577.5" y="160.4" width="6" height="5" fill="#22ffff"/><rect x="584.6" y="175.4" width="6" height="5" fill="#22ffff"/><polyline points="58.2,179.7 65.3,179.7 72.4,179.7 79.4,179.7 86.5,179.7 93.5,179.7 100.6,177.0 107.7,174.3 114.7,174.7 121.8,188.6 128.8,180.0 135.9,165.1 142.9,177.8 150.0,184.6 157.1,182.4 164.1,178.9 171.2,182.0 178.2,175.8 185.3,183.8 192.4,184.1 199.4,183.9 206.5,176.7 213.5,182.3 220.6,174.8 227.6,175.3 234.7,177.8 241.8,175.7 248.8,174.3 255.9,182.3 262.9,183.0 270.0,183.5 277.0,178.7 284.1,178.3 291.2,181.6 298.2,179.9 305.3,179.9 312.3,184.9 319.4,186.0 326.5,175.6 333.5,177.4 340.6,178.9 347.6,183.3 354.7,175.6 361.7,188.6 368.8,177.4 375.9,174.0 382.9,181.1 390.0,176.7 397.0,177.6 404.1,175.3 411.1,176.1 418.2,181.0 425.3,175.0 432.3,175.6 439.4,181.7 446.4,182.8 453.5,182.6 460.6,173.9 467.6,183.7 474.7,179.3 481.7,182.4 488.8,176.1 495.8,180.5 502.9,176.3 510.0,179.8 517.0,184.3 524.1,174.4 531.1,176.4 538.2,180.3 545.3,176.7 552.3,180.1 559.4,175.0 566.4,180.3 573.5,177.3 580.5,181.9 587.6,183.3" fill="none" stroke="#22ff22" stroke-width="1.0" stroke-linejoin="round"/><ellipse cx="58.2" cy="179.7" rx="3.0" ry="2.4" fill="#22ff22"/><ellipse cx="65.3" cy="179.7" rx="3.0" ry="2.4" fill="#22ff22"/><ellipse cx="72.4" cy="179.7" rx="3.0" ry="2.4" fill="#22ff22"/><ellipse cx="79.4" cy="179.7" rx="3.0" ry="2.4" fill="#22ff22"/><ellipse cx="86.5" cy="179.7" rx="3.0" ry="2.4" fill="#22ff22"/><ellipse cx="93.5" cy="179.7" rx="3.0" ry="2.4" fill="#22ff22"/><ellipse cx="100.6" cy="177.0" rx="3.0" ry="2.4" fill="#22ff22"/><ellipse cx="107.7" cy="174.3" rx="3.0" ry="2.4" fill="#22ff22"/><ellipse cx="114.7" cy="174.7" rx="3.0" ry="2.4" fill="#22ff22"/><ellipse cx="121.8" cy="188.6" rx="3.0" ry="2.4" fill="#22ff22"/><ellipse cx="128.8" cy="180.0" rx="3.0" ry="2.4" fill="#22ff22"/><ellipse cx="135.9" cy="165.1" rx="3.0" ry="2.4" fill="#22ff22"/><ellipse cx="142.9" cy="177.8" rx="3.0" ry="2.4" fill="#22ff22"/><ellipse cx="150.0" cy="184.6" rx="3.0" ry="2.4" fill="#22ff22"/><ellipse cx="157.1" cy="182.4" rx="3.0" ry="2.4" fill="#22ff22"/><ellipse cx="164.1" cy="178.9" rx="3.0" ry="2.4" fill="#22ff22"/><ellipse cx="171.2" cy="182.0" rx="3.0" ry="2.4" fill="#22ff22"/><ellipse cx="178.2" cy="175.8" rx="3.0" ry="2.4" fill="#22ff22"/><ellipse cx="185.3" cy="183.8" rx="3.0" ry="2.4" fill="#22ff22"/><ellipse cx="192.4" cy="184.1" rx="3.0" ry="2.4" fill="#22ff22"/><ellipse cx="199.4" cy="183.9" rx="3.0" ry="2.4" fill="#22ff22"/><ellipse cx="206.5" cy="176.7" rx="3.0" ry="2.4" fill="#22ff22"/><ellipse cx="213.5" cy="182.3" rx="3.0" ry="2.4" fill="#22ff22"/><ellipse cx="220.6" cy="174.8" rx="3.0" ry="2.4" fill="#22ff22"/><ellipse cx="227.6" cy="175.3" rx="3.0" ry="2.4" fill="#22ff22"/><ellipse cx="234.7" cy="177.8" rx="3.0" ry="2.4" fill="#22ff22"/><ellipse cx="241.8" cy="175.7" rx="3.0" ry="2.4" fill="#22ff22"/><ellipse cx="248.8" cy="174.3" rx="3.0" ry="2.4" fill="#22ff22"/><ellipse cx="255.9" cy="182.3" rx="3.0" ry="2.4" fill="#22ff22"/><ellipse cx="262.9" cy="183.0" rx="3.0" ry="2.4" fill="#22ff22"/><ellipse cx="270.0" cy="183.5" rx="3.0" ry="2.4" fill="#22ff22"/><ellipse cx="277.0" cy="178.7" rx="3.0" ry="2.4" fill="#22ff22"/><ellipse cx="284.1" cy="178.3" rx="3.0" ry="2.4" fill="#22ff22"/><ellipse cx="291.2" cy="181.6" rx="3.0" ry="2.4" fill="#22ff22"/><ellipse cx="298.2" cy="179.9" rx="3.0" ry="2.4" fill="#22ff22"/><ellipse cx="305.3" cy="179.9" rx="3.0" ry="2.4" fill="#22ff22"/><ellipse cx="312.3" cy="184.9" rx="3.0" ry="2.4" fill="#22ff22"/><ellipse cx="319.4" cy="186.0" rx="3.0" ry="2.4" fill="#22ff22"/><ellipse cx="326.5" cy="175.6" rx="3.0" ry="2.4" fill="#22ff22"/><ellipse cx="333.5" cy="177.4" rx="3.0" ry="2.4" fill="#22ff22"/><ellipse cx="340.6" cy="178.9" rx="3.0" ry="2.4" fill="#22ff22"/><ellipse cx="347.6" cy="183.3" rx="3.0" ry="2.4" fill="#22ff22"/><ellipse cx="354.7" cy="175.6" rx="3.0" ry="2.4" fill="#22ff22"/><ellipse cx="361.7" cy="188.6" rx="3.0" ry="2.4" fill="#22ff22"/><ellipse cx="368.8" cy="177.4" rx="3.0" ry="2.4" fill="#22ff22"/><ellipse cx="375.9" cy="174.0" rx="3.0" ry="2.4" fill="#22ff22"/><ellipse cx="382.9" cy="181.1" rx="3.0" ry="2.4" fill="#22ff22"/><ellipse cx="390.0" cy="176.7" rx="3.0" ry="2.4" fill="#22ff22"/><ellipse cx="397.0" cy="177.6" rx="3.0" ry="2.4" fill="#22ff22"/><ellipse cx="404.1" cy="175.3" rx="3.0" ry="2.4" fill="#22ff22"/><ellipse cx="411.1" cy="176.1" rx="3.0" ry="2.4" fill="#22ff22"/><ellipse cx="418.2" cy="181.0" rx="3.0" ry="2.4" fill="#22ff22"/><ellipse cx="425.3" cy="175.0" rx="3.0" ry="2.4" fill="#22ff22"/><ellipse cx="432.3" cy="175.6" rx="3.0" ry="2.4" fill="#22ff22"/><ellipse cx="439.4" cy="181.7" rx="3.0" ry="2.4" fill="#22ff22"/><ellipse cx="446.4" cy="182.8" rx="3.0" ry="2.4" fill="#22ff22"/><ellipse cx="453.5" cy="182.6" rx="3.0" ry="2.4" fill="#22ff22"/><ellipse cx="460.6" cy="173.9" rx="3.0" ry="2.4" fill="#22ff22"/><ellipse cx="467.6" cy="183.7" rx="3.0" ry="2.4" fill="#22ff22"/><ellipse cx="474.7" cy="179.3" rx="3.0" ry="2.4" fill="#22ff22"/><ellipse cx="481.7" cy="182.4" rx="3.0" ry="2.4" fill="#22ff22"/><ellipse cx="488.8" cy="176.1" rx="3.0" ry="2.4" fill="#22ff22"/><ellipse cx="495.8" cy="180.5" rx="3.0" ry="2.4" fill="#22ff22"/><ellipse cx="502.9" cy="176.3" rx="3.0" ry="2.4" fill="#22ff22"/><ellipse cx="510.0" cy="179.8" rx="3.0" ry="2.4" fill="#22ff22"/><ellipse cx="517.0" cy="184.3" rx="3.0" ry="2.4" fill="#22ff22"/><ellipse cx="524.1" cy="174.4" rx="3.0" ry="2.4" fill="#22ff22"/><ellipse cx="531.1" cy="176.4" rx="3.0" ry="2.4" fill="#22ff22"/><ellipse cx="538.2" cy="180.3" rx="3.0" ry="2.4" fill="#22ff22"/><ellipse cx="545.3" cy="176.7" rx="3.0" ry="2.4" fill="#22ff22"/><ellipse cx="552.3" cy="180.1" rx="3.0" ry="2.4" fill="#22ff22"/><ellipse cx="559.4" cy="175.0" rx="3.0" ry="2.4" fill="#22ff22"/><ellipse cx="566.4" cy="180.3" rx="3.0" ry="2.4" fill="#22ff22"/><ellipse cx="573.5" cy="177.3" rx="3.0" ry="2.4" fill="#22ff22"/><ellipse cx="580.5" cy="181.9" rx="3.0" ry="2.4" fill="#22ff22"/><ellipse cx="587.6" cy="183.3" rx="3.0" ry="2.4" fill="#22ff22"/><polyline points="58.2,179.7 65.3,179.7 72.4,179.7 79.4,179.7 86.5,179.7 93.5,179.7 100.6,176.0 107.7,182.0 114.7,168.6 121.8,184.1 128.8,175.3 135.9,181.0 142.9,168.6 150.0,170.8 157.1,178.5 164.1,177.2 171.2,177.2 178.2,177.0 185.3,180.7 192.4,177.9 199.4,179.2 206.5,182.4 213.5,177.6 220.6,181.6 227.6,177.3 234.7,180.3 241.8,182.1 248.8,181.9 255.9,178.6 262.9,178.4 270.0,175.7 277.0,179.5 284.1,177.6 291.2,174.3 298.2,180.8 305.3,181.7 312.3,161.5 319.4,184.0 326.5,179.4 333.5,178.4 340.6,182.4 347.6,183.3 354.7,176.6 361.7,187.7 368.8,185.0 375.9,185.2 382.9,176.0 390.0,181.7 397.0,180.7 404.1,175.7 411.1,180.3 418.2,180.8 425.3,182.8 432.3,174.9 439.4,175.5 446.4,176.5 453.5,179.5 460.6,177.7 467.6,183.6 474.7,182.3 481.7,176.9 488.8,183.7 495.8,179.0 502.9,182.0 510.0,175.6 517.0,180.5 524.1,178.4 531.1,179.9 538.2,183.2 545.3,181.5 552.3,181.7 559.4,172.2 566.4,174.7 573.5,181.2 580.5,181.6 587.6,179.8" fill="none" stroke="#8a0000" stroke-width="1.0" stroke-linejoin="round"/><path d="M55.2 179.7L58.2 177.2L61.2 179.7L58.2 182.2Z" fill="#8a0000"/><path d="M62.3 179.7L65.3 177.2L68.3 179.7L65.3 182.2Z" fill="#8a0000"/><path d="M69.4 179.7L72.4 177.2L75.4 179.7L72.4 182.2Z" fill="#8a0000"/><path d="M76.4 179.7L79.4 177.2L82.4 179.7L79.4 182.2Z" fill="#8a0000"/><path d="M83.5 179.7L86.5 177.2L89.5 179.7L86.5 182.2Z" fill="#8a0000"/><path d="M90.5 179.7L93.5 177.2L96.5 179.7L93.5 182.2Z" fill="#8a0000"/><path d="M97.6 176.0L100.6 173.5L103.6 176.0L100.6 178.5Z" fill="#8a0000"/><path d="M104.7 182.0L107.7 179.5L110.7 182.0L107.7 184.5Z" fill="#8a0000"/><path d="M111.7 168.6L114.7 166.1L117.7 168.6L114.7 171.1Z" fill="#8a0000"/><path d="M118.8 184.1L121.8 181.6L124.8 184.1L121.8 186.6Z" fill="#8a0000"/><path d="M125.8 175.3L128.8 172.8L131.8 175.3L128.8 177.8Z" fill="#8a0000"/><path d="M132.9 181.0L135.9 178.5L138.9 181.0L135.9 183.5Z" fill="#8a0000"/><path d="M139.9 168.6L142.9 166.1L145.9 168.6L142.9 171.1Z" fill="#8a0000"/><path d="M147.0 170.8L150.0 168.3L153.0 170.8L150.0 173.3Z" fill="#8a0000"/><path d="M154.1 178.5L157.1 176.0L160.1 178.5L157.1 181.0Z" fill="#8a0000"/><path d="M161.1 177.2L164.1 174.7L167.1 177.2L164.1 179.7Z" fill="#8a0000"/><path d="M168.2 177.2L171.2 174.7L174.2 177.2L171.2 179.7Z" fill="#8a0000"/><path d="M175.2 177.0L178.2 174.5L181.2 177.0L178.2 179.5Z" fill="#8a0000"/><path d="M182.3 180.7L185.3 178.2L188.3 180.7L185.3 183.2Z" fill="#8a0000"/><path d="M189.4 177.9L192.4 175.4L195.4 177.9L192.4 180.4Z" fill="#8a0000"/><path d="M196.4 179.2L199.4 176.7L202.4 179.2L199.4 181.7Z" fill="#8a0000"/><path d="M203.5 182.4L206.5 179.9L209.5 182.4L206.5 184.9Z" fill="#8a0000"/><path d="M210.5 177.6L213.5 175.1L216.5 177.6L213.5 180.1Z" fill="#8a0000"/><path d="M217.6 181.6L220.6 179.1L223.6 181.6L220.6 184.1Z" fill="#8a0000"/><path d="M224.6 177.3L227.6 174.8L230.6 177.3L227.6 179.8Z" fill="#8a0000"/><path d="M231.7 180.3L234.7 177.8L237.7 180.3L234.7 182.8Z" fill="#8a0000"/><path d="M238.8 182.1L241.8 179.6L244.8 182.1L241.8 184.6Z" fill="#8a0000"/><path d="M245.8 181.9L248.8 179.4L251.8 181.9L248.8 184.4Z" fill="#8a0000"/><path d="M252.9 178.6L255.9 176.1L258.9 178.6L255.9 181.1Z" fill="#8a0000"/><path d="M259.9 178.4L262.9 175.9L265.9 178.4L262.9 180.9Z" fill="#8a0000"/><path d="M267.0 175.7L270.0 173.2L273.0 175.7L270.0 178.2Z" fill="#8a0000"/><path d="M274.0 179.5L277.0 177.0L280.0 179.5L277.0 182.0Z" fill="#8a0000"/><path d="M281.1 177.6L284.1 175.1L287.1 177.6L284.1 180.1Z" fill="#8a0000"/><path d="M288.2 174.3L291.2 171.8L294.2 174.3L291.2 176.8Z" fill="#8a0000"/><path d="M295.2 180.8L298.2 178.3L301.2 180.8L298.2 183.3Z" fill="#8a0000"/><path d="M302.3 181.7L305.3 179.2L308.3 181.7L305.3 184.2Z" fill="#8a0000"/><path d="M309.3 161.5L312.3 159.0L315.3 161.5L312.3 164.0Z" fill="#8a0000"/><path d="M316.4 184.0L319.4 181.5L322.4 184.0L319.4 186.5Z" fill="#8a0000"/><path d="M323.5 179.4L326.5 176.9L329.5 179.4L326.5 181.9Z" fill="#8a0000"/><path d="M330.5 178.4L333.5 175.9L336.5 178.4L333.5 180.9Z" fill="#8a0000"/><path d="M337.6 182.4L340.6 179.9L343.6 182.4L340.6 184.9Z" fill="#8a0000"/><path d="M344.6 183.3L347.6 180.8L350.6 183.3L347.6 185.8Z" fill="#8a0000"/><path d="M351.7 176.6L354.7 174.1L357.7 176.6L354.7 179.1Z" fill="#8a0000"/><path d="M358.7 187.7L361.7 185.2L364.7 187.7L361.7 190.2Z" fill="#8a0000"/><path d="M365.8 185.0L368.8 182.5L371.8 185.0L368.8 187.5Z" fill="#8a0000"/><path d="M372.9 185.2L375.9 182.7L378.9 185.2L375.9 187.7Z" fill="#8a0000"/><path d="M379.9 176.0L382.9 173.5L385.9 176.0L382.9 178.5Z" fill="#8a0000"/><path d="M387.0 181.7L390.0 179.2L393.0 181.7L390.0 184.2Z" fill="#8a0000"/><path d="M394.0 180.7L397.0 178.2L400.0 180.7L397.0 183.2Z" fill="#8a0000"/><path d="M401.1 175.7L404.1 173.2L407.1 175.7L404.1 178.2Z" fill="#8a0000"/><path d="M408.1 180.3L411.1 177.8L414.1 180.3L411.1 182.8Z" fill="#8a0000"/><path d="M415.2 180.8L418.2 178.3L421.2 180.8L418.2 183.3Z" fill="#8a0000"/><path d="M422.3 182.8L425.3 180.3L428.3 182.8L425.3 185.3Z" fill="#8a0000"/><path d="M429.3 174.9L432.3 172.4L435.3 174.9L432.3 177.4Z" fill="#8a0000"/><path d="M436.4 175.5L439.4 173.0L442.4 175.5L439.4 178.0Z" fill="#8a0000"/><path d="M443.4 176.5L446.4 174.0L449.4 176.5L446.4 179.0Z" fill="#8a0000"/><path d="M450.5 179.5L453.5 177.0L456.5 179.5L453.5 182.0Z" fill="#8a0000"/><path d="M457.6 177.7L460.6 175.2L463.6 177.7L460.6 180.2Z" fill="#8a0000"/><path d="M464.6 183.6L467.6 181.1L470.6 183.6L467.6 186.1Z" fill="#8a0000"/><path d="M471.7 182.3L474.7 179.8L477.7 182.3L474.7 184.8Z" fill="#8a0000"/><path d="M478.7 176.9L481.7 174.4L484.7 176.9L481.7 179.4Z" fill="#8a0000"/><path d="M485.8 183.7L488.8 181.2L491.8 183.7L488.8 186.2Z" fill="#8a0000"/><path d="M492.8 179.0L495.8 176.5L498.8 179.0L495.8 181.5Z" fill="#8a0000"/><path d="M499.9 182.0L502.9 179.5L505.9 182.0L502.9 184.5Z" fill="#8a0000"/><path d="M507.0 175.6L510.0 173.1L513.0 175.6L510.0 178.1Z" fill="#8a0000"/><path d="M514.0 180.5L517.0 178.0L520.0 180.5L517.0 183.0Z" fill="#8a0000"/><path d="M521.1 178.4L524.1 175.9L527.1 178.4L524.1 180.9Z" fill="#8a0000"/><path d="M528.1 179.9L531.1 177.4L534.1 179.9L531.1 182.4Z" fill="#8a0000"/><path d="M535.2 183.2L538.2 180.7L541.2 183.2L538.2 185.7Z" fill="#8a0000"/><path d="M542.3 181.5L545.3 179.0L548.3 181.5L545.3 184.0Z" fill="#8a0000"/><path d="M549.3 181.7L552.3 179.2L555.3 181.7L552.3 184.2Z" fill="#8a0000"/><path d="M556.4 172.2L559.4 169.7L562.4 172.2L559.4 174.7Z" fill="#8a0000"/><path d="M563.4 174.7L566.4 172.2L569.4 174.7L566.4 177.2Z" fill="#8a0000"/><path d="M570.5 181.2L573.5 178.7L576.5 181.2L573.5 183.7Z" fill="#8a0000"/><path d="M577.5 181.6L580.5 179.1L583.5 181.6L580.5 184.1Z" fill="#8a0000"/><path d="M584.6 179.8L587.6 177.3L590.6 179.8L587.6 182.3Z" fill="#8a0000"/><polyline points="58.2,179.7 65.3,179.7 72.4,179.7 79.4,179.7 86.5,179.7 93.5,179.7 100.6,179.7 107.7,181.5 114.7,182.3 121.8,180.5 128.8,179.7 135.9,180.0 142.9,181.5 150.0,177.9 157.1,181.0 164.1,177.0 171.2,180.3 178.2,182.9 185.3,181.1 192.4,181.5 199.4,178.1 206.5,179.3 213.5,180.5 220.6,182.2 227.6,181.0 234.7,180.1 241.8,179.3 248.8,180.8 255.9,178.4 262.9,179.3 270.0,177.5 277.0,181.0 284.1,182.4 291.2,178.3 298.2,179.8 305.3,179.0 312.3,179.2 319.4,181.0 326.5,179.1 333.5,180.0 340.6,176.7 347.6,178.8 354.7,178.8 361.7,176.7 368.8,181.1 375.9,178.8 382.9,179.9 390.0,181.5 397.0,178.5 404.1,180.9 411.1,177.7 418.2,179.9 425.3,177.5 432.3,177.3 439.4,180.1 446.4,177.7 453.5,182.1 460.6,181.0 467.6,179.8 474.7,181.1 481.7,180.0 488.8,179.3 495.8,178.4 502.9,179.0 510.0,182.5 517.0,177.8 524.1,177.7 531.1,180.2 538.2,179.1 545.3,181.6 552.3,181.3 559.4,182.0 566.4,181.2 573.5,180.3 580.5,178.1 587.6,181.8" fill="none" stroke="#ffff22" stroke-width="1.0" stroke-linejoin="round"/><path d="M55.2 179.7H61.2M58.2 177.0V182.4" stroke="#ffff22" stroke-width="1" fill="none"/><path d="M62.3 179.7H68.3M65.3 177.0V182.4" stroke="#ffff22" stroke-width="1" fill="none"/><path d="M69.4 179.7H75.4M72.4 177.0V182.4" stroke="#ffff22" stroke-width="1" fill="none"/><path d="M76.4 179.7H82.4M79.4 177.0V182.4" stroke="#ffff22" stroke-width="1" fill="none"/><path d="M83.5 179.7H89.5M86.5 177.0V182.4" stroke="#ffff22" stroke-width="1" fill="none"/><path d="M90.5 179.7H96.5M93.5 177.0V182.4" stroke="#ffff22" stroke-width="1" fill="none"/><path d="M97.6 179.7H103.6M100.6 177.0V182.4" stroke="#ffff22" stroke-width="1" fill="none"/><path d="M104.7 181.5H110.7M107.7 178.8V184.2" stroke="#ffff22" stroke-width="1" fill="none"/><path d="M111.7 182.3H117.7M114.7 179.6V185.0" stroke="#ffff22" stroke-width="1" fill="none"/><path d="M118.8 180.5H124.8M121.8 177.8V183.2" stroke="#ffff22" stroke-width="1" fill="none"/><path d="M125.8 179.7H131.8M128.8 177.0V182.4" stroke="#ffff22" stroke-width="1" fill="none"/><path d="M132.9 180.0H138.9M135.9 177.3V182.7" stroke="#ffff22" stroke-width="1" fill="none"/><path d="M139.9 181.5H145.9M142.9 178.8V184.2" stroke="#ffff22" stroke-width="1" fill="none"/><path d="M147.0 177.9H153.0M150.0 175.2V180.6" stroke="#ffff22" stroke-width="1" fill="none"/><path d="M154.1 181.0H160.1M157.1 178.3V183.7" stroke="#ffff22" stroke-width="1" fill="none"/><path d="M161.1 177.0H167.1M164.1 174.3V179.7" stroke="#ffff22" stroke-width="1" fill="none"/><path d="M168.2 180.3H174.2M171.2 177.6V183.0" stroke="#ffff22" stroke-width="1" fill="none"/><path d="M175.2 182.9H181.2M178.2 180.2V185.6" stroke="#ffff22" stroke-width="1" fill="none"/><path d="M182.3 181.1H188.3M185.3 178.4V183.8" stroke="#ffff22" stroke-width="1" fill="none"/><path d="M189.4 181.5H195.4M192.4 178.8V184.2" stroke="#ffff22" stroke-width="1" fill="none"/><path d="M196.4 178.1H202.4M199.4 175.4V180.8" stroke="#ffff22" stroke-width="1" fill="none"/><path d="M203.5 179.3H209.5M206.5 176.6V182.0" stroke="#ffff22" stroke-width="1" fill="none"/><path d="M210.5 180.5H216.5M213.5 177.8V183.2" stroke="#ffff22" stroke-width="1" fill="none"/><path d="M217.6 182.2H223.6M220.6 179.5V184.9" stroke="#ffff22" stroke-width="1" fill="none"/><path d="M224.6 181.0H230.6M227.6 178.3V183.7" stroke="#ffff22" stroke-width="1" fill="none"/><path d="M231.7 180.1H237.7M234.7 177.4V182.8" stroke="#ffff22" stroke-width="1" fill="none"/><path d="M238.8 179.3H244.8M241.8 176.6V182.0" stroke="#ffff22" stroke-width="1" fill="none"/><path d="M245.8 180.8H251.8M248.8 178.1V183.5" stroke="#ffff22" stroke-width="1" fill="none"/><path d="M252.9 178.4H258.9M255.9 175.7V181.1" stroke="#ffff22" stroke-width="1" fill="none"/><path d="M259.9 179.3H265.9M262.9 176.6V182.0" stroke="#ffff22" stroke-width="1" fill="none"/><path d="M267.0 177.5H273.0M270.0 174.8V180.2" stroke="#ffff22" stroke-width="1" fill="none"/><path d="M274.0 181.0H280.0M277.0 178.3V183.7" stroke="#ffff22" stroke-width="1" fill="none"/><path d="M281.1 182.4H287.1M284.1 179.7V185.1" stroke="#ffff22" stroke-width="1" fill="none"/><path d="M288.2 178.3H294.2M291.2 175.6V181.0" stroke="#ffff22" stroke-width="1" fill="none"/><path d="M295.2 179.8H301.2M298.2 177.1V182.5" stroke="#ffff22" stroke-width="1" fill="none"/><path d="M302.3 179.0H308.3M305.3 176.3V181.7" stroke="#ffff22" stroke-width="1" fill="none"/><path d="M309.3 179.2H315.3M312.3 176.5V181.9" stroke="#ffff22" stroke-width="1" fill="none"/><path d="M316.4 181.0H322.4M319.4 178.3V183.7" stroke="#ffff22" stroke-width="1" fill="none"/><path d="M323.5 179.1H329.5M326.5 176.4V181.8" stroke="#ffff22" stroke-width="1" fill="none"/><path d="M330.5 180.0H336.5M333.5 177.3V182.7" stroke="#ffff22" stroke-width="1" fill="none"/><path d="M337.6 176.7H343.6M340.6 174.0V179.4" stroke="#ffff22" stroke-width="1" fill="none"/><path d="M344.6 178.8H350.6M347.6 176.1V181.5" stroke="#ffff22" stroke-width="1" fill="none"/><path d="M351.7 178.8H357.7M354.7 176.1V181.5" stroke="#ffff22" stroke-width="1" fill="none"/><path d="M358.7 176.7H364.7M361.7 174.0V179.4" stroke="#ffff22" stroke-width="1" fill="none"/><path d="M365.8 181.1H371.8M368.8 178.4V183.8" stroke="#ffff22" stroke-width="1" fill="none"/><path d="M372.9 178.8H378.9M375.9 176.1V181.5" stroke="#ffff22" stroke-width="1" fill="none"/><path d="M379.9 179.9H385.9M382.9 177.2V182.6" stroke="#ffff22" stroke-width="1" fill="none"/><path d="M387.0 181.5H393.0M390.0 178.8V184.2" stroke="#ffff22" stroke-width="1" fill="none"/><path d="M394.0 178.5H400.0M397.0 175.8V181.2" stroke="#ffff22" stroke-width="1" fill="none"/><path d="M401.1 180.9H407.1M404.1 178.2V183.6" stroke="#ffff22" stroke-width="1" fill="none"/><path d="M408.1 177.7H414.1M411.1 175.0V180.4" stroke="#ffff22" stroke-width="1" fill="none"/><path d="M415.2 179.9H421.2M418.2 177.2V182.6" stroke="#ffff22" stroke-width="1" fill="none"/><path d="M422.3 177.5H428.3M425.3 174.8V180.2" stroke="#ffff22" stroke-width="1" fill="none"/><path d="M429.3 177.3H435.3M432.3 174.6V180.0" stroke="#ffff22" stroke-width="1" fill="none"/><path d="M436.4 180.1H442.4M439.4 177.4V182.8" stroke="#ffff22" stroke-width="1" fill="none"/><path d="M443.4 177.7H449.4M446.4 175.0V180.4" stroke="#ffff22" stroke-width="1" fill="none"/><path d="M450.5 182.1H456.5M453.5 179.4V184.8" stroke="#ffff22" stroke-width="1" fill="none"/><path d="M457.6 181.0H463.6M460.6 178.3V183.7" stroke="#ffff22" stroke-width="1" fill="none"/><path d="M464.6 179.8H470.6M467.6 177.1V182.5" stroke="#ffff22" stroke-width="1" fill="none"/><path d="M471.7 181.1H477.7M474.7 178.4V183.8" stroke="#ffff22" stroke-width="1" fill="none"/><path d="M478.7 180.0H484.7M481.7 177.3V182.7" stroke="#ffff22" stroke-width="1" fill="none"/><path d="M485.8 179.3H491.8M488.8 176.6V182.0" stroke="#ffff22" stroke-width="1" fill="none"/><path d="M492.8 178.4H498.8M495.8 175.7V181.1" stroke="#ffff22" stroke-width="1" fill="none"/><path d="M499.9 179.0H505.9M502.9 176.3V181.7" stroke="#ffff22" stroke-width="1" fill="none"/><path d="M507.0 182.5H513.0M510.0 179.8V185.2" stroke="#ffff22" stroke-width="1" fill="none"/><path d="M514.0 177.8H520.0M517.0 175.1V180.5" stroke="#ffff22" stroke-width="1" fill="none"/><path d="M521.1 177.7H527.1M524.1 175.0V180.4" stroke="#ffff22" stroke-width="1" fill="none"/><path d="M528.1 180.2H534.1M531.1 177.5V182.9" stroke="#ffff22" stroke-width="1" fill="none"/><path d="M535.2 179.1H541.2M538.2 176.4V181.8" stroke="#ffff22" stroke-width="1" fill="none"/><path d="M542.3 181.6H548.3M545.3 178.9V184.3" stroke="#ffff22" stroke-width="1" fill="none"/><path d="M549.3 181.3H555.3M552.3 178.6V184.0" stroke="#ffff22" stroke-width="1" fill="none"/><path d="M556.4 182.0H562.4M559.4 179.3V184.7" stroke="#ffff22" stroke-width="1" fill="none"/><path d="M563.4 181.2H569.4M566.4 178.5V183.9" stroke="#ffff22" stroke-width="1" fill="none"/><path d="M570.5 180.3H576.5M573.5 177.6V183.0" stroke="#ffff22" stroke-width="1" fill="none"/><path d="M577.5 178.1H583.5M580.5 175.4V180.8" stroke="#ffff22" stroke-width="1" fill="none"/><path d="M584.6 181.8H590.6M587.6 179.1V184.5" stroke="#ffff22" stroke-width="1" fill="none"/><polyline points="58.2,179.7 65.3,179.7 72.4,179.7 79.4,179.7 86.5,179.7 93.5,179.7 100.6,179.7 107.7,213.8 114.7,228.9 121.8,127.0 128.8,220.9 135.9,147.4 142.9,204.5 150.0,143.4 157.1,189.9 164.1,170.0 171.2,185.0 178.2,180.1 185.3,184.6 192.4,179.7 199.4,200.1 206.5,221.8 213.5,160.7 220.6,199.6 227.6,173.1 234.7,208.9 241.8,185.9 248.8,183.7 255.9,184.6 262.9,173.9 270.0,183.7 277.0,179.7 284.1,178.4 291.2,178.4 298.2,189.0 305.3,185.0 312.3,153.1 319.4,186.8 326.5,142.0 333.5,183.2 340.6,170.4 347.6,171.7 354.7,160.7 361.7,184.6 368.8,175.7 375.9,195.6 382.9,181.5 390.0,197.0 397.0,174.4 404.1,154.4 411.1,202.7 418.2,192.5 425.3,176.2 432.3,182.4 439.4,185.9 446.4,174.4 453.5,232.0 460.6,201.4 467.6,160.2 474.7,136.7 481.7,182.4 488.8,193.4 495.8,197.4 502.9,179.7 510.0,174.4 517.0,142.9 524.1,186.3 531.1,184.1 538.2,145.1 545.3,191.2 552.3,184.1 559.4,143.8 566.4,172.6 573.5,152.2 580.5,250.1 587.6,14.0" fill="none" stroke="#808000" stroke-width="1.0" stroke-linejoin="round"/><rect x="55.2" y="177.2" width="6" height="5" fill="#808000"/><rect x="62.3" y="177.2" width="6" height="5" fill="#808000"/><rect x="69.4" y="177.2" width="6" height="5" fill="#808000"/><rect x="76.4" y="177.2" width="6" height="5" fill="#808000"/><rect x="83.5" y="177.2" width="6" height="5" fill="#808000"/><rect x="90.5" y="177.2" width="6" height="5" fill="#808000"/><rect x="97.6" y="177.2" width="6" height="5" fill="#808000"/><rect x="104.7" y="211.3" width="6" height="5" fill="#808000"/><rect x="111.7" y="226.4" width="6" height="5" fill="#808000"/><rect x="118.8" y="124.5" width="6" height="5" fill="#808000"/><rect x="125.8" y="218.4" width="6" height="5" fill="#808000"/><rect x="132.9" y="144.9" width="6" height="5" fill="#808000"/><rect x="139.9" y="202.0" width="6" height="5" fill="#808000"/><rect x="147.0" y="140.9" width="6" height="5" fill="#808000"/><rect x="154.1" y="187.4" width="6" height="5" fill="#808000"/><rect x="161.1" y="167.5" width="6" height="5" fill="#808000"/><rect x="168.2" y="182.5" width="6" height="5" fill="#808000"/><rect x="175.2" y="177.6" width="6" height="5" fill="#808000"/><rect x="182.3" y="182.1" width="6" height="5" fill="#808000"/><rect x="189.4" y="177.2" width="6" height="5" fill="#808000"/><rect x="196.4" y="197.6" width="6" height="5" fill="#808000"/><rect x="203.5" y="219.3" width="6" height="5" fill="#808000"/><rect x="210.5" y="158.2" width="6" height="5" fill="#808000"/><rect x="217.6" y="197.1" width="6" height="5" fill="#808000"/><rect x="224.6" y="170.6" width="6" height="5" fill="#808000"/><rect x="231.7" y="206.4" width="6" height="5" fill="#808000"/><rect x="238.8" y="183.4" width="6" height="5" fill="#808000"/><rect x="245.8" y="181.2" width="6" height="5" fill="#808000"/><rect x="252.9" y="182.1" width="6" height="5" fill="#808000"/><rect x="259.9" y="171.4" width="6" height="5" fill="#808000"/><rect x="267.0" y="181.2" width="6" height="5" fill="#808000"/><rect x="274.0" y="177.2" width="6" height="5" fill="#808000"/><rect x="281.1" y="175.9" width="6" height="5" fill="#808000"/><rect x="288.2" y="175.9" width="6" height="5" fill="#808000"/><rect x="295.2" y="186.5" width="6" height="5" fill="#808000"/><rect x="302.3" y="182.5" width="6" height="5" fill="#808000"/><rect x="309.3" y="150.6" width="6" height="5" fill="#808000"/><rect x="316.4" y="184.3" width="6" height="5" fill="#808000"/><rect x="323.5" y="139.5" width="6" height="5" fill="#808000"/><rect x="330.5" y="180.7" width="6" height="5" fill="#808000"/><rect x="337.6" y="167.9" width="6" height="5" fill="#808000"/><rect x="344.6" y="169.2" width="6" height="5" fill="#808000"/><rect x="351.7" y="158.2" width="6" height="5" fill="#808000"/><rect x="358.7" y="182.1" width="6" height="5" fill="#808000"/><rect x="365.8" y="173.2" width="6" height="5" fill="#808000"/><rect x="372.9" y="193.1" width="6" height="5" fill="#808000"/><rect x="379.9" y="179.0" width="6" height="5" fill="#808000"/><rect x="387.0" y="194.5" width="6" height="5" fill="#808000"/><rect x="394.0" y="171.9" width="6" height="5" fill="#808000"/><rect x="401.1" y="151.9" width="6" height="5" fill="#808000"/><rect x="408.1" y="200.2" width="6" height="5" fill="#808000"/><rect x="415.2" y="190.0" width="6" height="5" fill="#808000"/><rect x="422.3" y="173.7" width="6" height="5" fill="#808000"/><rect x="429.3" y="179.9" width="6" height="5" fill="#808000"/><rect x="436.4" y="183.4" width="6" height="5" fill="#808000"/><rect x="443.4" y="171.9" width="6" height="5" fill="#808000"/><rect x="450.5" y="229.5" width="6" height="5" fill="#808000"/><rect x="457.6" y="198.9" width="6" height="5" fill="#808000"/><rect x="464.6" y="157.7" width="6" height="5" fill="#808000"/><rect x="471.7" y="134.2" width="6" height="5" fill="#808000"/><rect x="478.7" y="179.9" width="6" height="5" fill="#808000"/><rect x="485.8" y="190.9" width="6" height="5" fill="#808000"/><rect x="492.8" y="194.9" width="6" height="5" fill="#808000"/><rect x="499.9" y="177.2" width="6" height="5" fill="#808000"/><rect x="507.0" y="171.9" width="6" height="5" fill="#808000"/><rect x="514.0" y="140.4" width="6" height="5" fill="#808000"/><rect x="521.1" y="183.8" width="6" height="5" fill="#808000"/><rect x="528.1" y="181.6" width="6" height="5" fill="#808000"/><rect x="535.2" y="142.6" width="6" height="5" fill="#808000"/><rect x="542.3" y="188.7" width="6" height="5" fill="#808000"/><rect x="549.3" y="181.6" width="6" height="5" fill="#808000"/><rect x="556.4" y="141.3" width="6" height="5" fill="#808000"/><rect x="563.4" y="170.1" width="6" height="5" fill="#808000"/><rect x="570.5" y="149.7" width="6" height="5" fill="#808000"/><rect x="577.5" y="247.6" width="6" height="5" fill="#808000"/><rect x="584.6" y="11.5" width="6" height="5" fill="#808000"/><ellipse cx="128.8" cy="197.4" rx="6" ry="4.6" fill="none" stroke="#eb8c1e" stroke-width="1.5"/><ellipse cx="135.9" cy="157.6" rx="6" ry="4.6" fill="none" stroke="#eb8c1e" stroke-width="1.5"/><ellipse cx="135.9" cy="165.1" rx="6" ry="4.6" fill="none" stroke="#eb8c1e" stroke-width="1.5"/><ellipse cx="220.6" cy="199.6" rx="6" ry="4.6" fill="none" stroke="#eb8c1e" stroke-width="1.5"/><ellipse cx="262.9" cy="159.8" rx="6" ry="4.6" fill="none" stroke="#eb8c1e" stroke-width="1.5"/><ellipse cx="312.3" cy="130.1" rx="6" ry="4.6" fill="none" stroke="#eb8c1e" stroke-width="1.5"/><ellipse cx="312.3" cy="161.5" rx="6" ry="4.6" fill="none" stroke="#eb8c1e" stroke-width="1.5"/><ellipse cx="361.7" cy="190.8" rx="6" ry="4.6" fill="none" stroke="#eb8c1e" stroke-width="1.5"/><ellipse cx="411.1" cy="69.8" rx="6" ry="4.6" fill="none" stroke="#eb8c1e" stroke-width="1.5"/><ellipse cx="425.3" cy="186.8" rx="6" ry="4.6" fill="none" stroke="#eb8c1e" stroke-width="1.5"/><ellipse cx="552.3" cy="224.0" rx="6" ry="4.6" fill="none" stroke="#eb8c1e" stroke-width="1.5"/><ellipse cx="559.4" cy="172.2" rx="6" ry="4.6" fill="none" stroke="#eb8c1e" stroke-width="1.5"/><ellipse cx="573.5" cy="293.1" rx="6" ry="4.6" fill="none" stroke="#eb8c1e" stroke-width="1.5"/><ellipse cx="580.5" cy="250.1" rx="6" ry="4.6" fill="none" stroke="#eb8c1e" stroke-width="1.5"/><ellipse cx="587.6" cy="14.0" rx="6" ry="4.6" fill="none" stroke="#eb8c1e" stroke-width="1.5"/></g><line x1="58.25" y1="2.7" x2="589.0" y2="2.7" stroke="#555" stroke-width="1.4"/><line x1="588.3" y1="2.5" x2="588.3" y2="312.6" stroke="#555" stroke-width="1.4"/><line x1="58.25" y1="2.5" x2="58.25" y2="312.6" stroke="#4a4a4a" stroke-width="1.3"/><line x1="57.65" y1="312.6" x2="588.3" y2="312.6" stroke="#111" stroke-width="1.4"/><text x="52.6" y="5.30" font-family="Liberation Sans, sans-serif" font-size="8.5" fill="#2e2e2e" stroke="#2e2e2e" stroke-width="0.15" text-anchor="end" textLength="24.2" lengthAdjust="spacingAndGlyphs">0.400</text><text x="52.6" y="49.60" font-family="Liberation Sans, sans-serif" font-size="8.5" fill="#2e2e2e" stroke="#2e2e2e" stroke-width="0.15" text-anchor="end" textLength="24.2" lengthAdjust="spacingAndGlyphs">0.300</text><text x="52.6" y="93.90" font-family="Liberation Sans, sans-serif" font-size="8.5" fill="#2e2e2e" stroke="#2e2e2e" stroke-width="0.15" text-anchor="end" textLength="24.2" lengthAdjust="spacingAndGlyphs">0.200</text><text x="52.6" y="138.20" font-family="Liberation Sans, sans-serif" font-size="8.5" fill="#2e2e2e" stroke="#2e2e2e" stroke-width="0.15" text-anchor="end" textLength="24.2" lengthAdjust="spacingAndGlyphs">0.100</text><text x="52.6" y="182.50" font-family="Liberation Sans, sans-serif" font-size="8.5" fill="#2e2e2e" stroke="#2e2e2e" stroke-width="0.15" text-anchor="end" textLength="18.4" lengthAdjust="spacingAndGlyphs">0.00</text><text x="52.6" y="226.80" font-family="Liberation Sans, sans-serif" font-size="8.5" fill="#2e2e2e" stroke="#2e2e2e" stroke-width="0.15" text-anchor="end" textLength="27.5" lengthAdjust="spacingAndGlyphs">-0.100</text><text x="52.6" y="271.10" font-family="Liberation Sans, sans-serif" font-size="8.5" fill="#2e2e2e" stroke="#2e2e2e" stroke-width="0.15" text-anchor="end" textLength="27.5" lengthAdjust="spacingAndGlyphs">-0.200</text><text x="52.6" y="315.40" font-family="Liberation Sans, sans-serif" font-size="8.5" fill="#2e2e2e" stroke="#2e2e2e" stroke-width="0.15" text-anchor="end" textLength="27.5" lengthAdjust="spacingAndGlyphs">-0.300</text><text x="58.25" y="323.40" font-family="Liberation Sans, sans-serif" font-size="8.5" fill="#2e2e2e" stroke="#2e2e2e" stroke-width="0.15" text-anchor="middle" textLength="18.4" lengthAdjust="spacingAndGlyphs">0.00</text><text x="128.83" y="323.40" font-family="Liberation Sans, sans-serif" font-size="8.5" fill="#2e2e2e" stroke="#2e2e2e" stroke-width="0.15" text-anchor="middle" textLength="18.4" lengthAdjust="spacingAndGlyphs">2.00</text><text x="199.41" y="323.40" font-family="Liberation Sans, sans-serif" font-size="8.5" fill="#2e2e2e" stroke="#2e2e2e" stroke-width="0.15" text-anchor="middle" textLength="18.4" lengthAdjust="spacingAndGlyphs">4.00</text><text x="269.99" y="323.40" font-family="Liberation Sans, sans-serif" font-size="8.5" fill="#2e2e2e" stroke="#2e2e2e" stroke-width="0.15" text-anchor="middle" textLength="18.4" lengthAdjust="spacingAndGlyphs">6.00</text><text x="340.57" y="323.40" font-family="Liberation Sans, sans-serif" font-size="8.5" fill="#2e2e2e" stroke="#2e2e2e" stroke-width="0.15" text-anchor="middle" textLength="18.4" lengthAdjust="spacingAndGlyphs">8.00</text><text x="411.15" y="323.40" font-family="Liberation Sans, sans-serif" font-size="8.5" fill="#2e2e2e" stroke="#2e2e2e" stroke-width="0.15" text-anchor="middle" textLength="18.4" lengthAdjust="spacingAndGlyphs">10.0</text><text x="481.73" y="323.40" font-family="Liberation Sans, sans-serif" font-size="8.5" fill="#2e2e2e" stroke="#2e2e2e" stroke-width="0.15" text-anchor="middle" textLength="18.4" lengthAdjust="spacingAndGlyphs">12.0</text><text x="552.31" y="323.40" font-family="Liberation Sans, sans-serif" font-size="8.5" fill="#2e2e2e" stroke="#2e2e2e" stroke-width="0.15" text-anchor="middle" textLength="18.4" lengthAdjust="spacingAndGlyphs">14.0</text><rect x="58.25" y="476.4" width="530.05" height="301.6" fill="#fff"/><line x1="58.25" y1="514.10" x2="588.3" y2="514.10" stroke="#dadada" stroke-width="1.1"/><line x1="58.25" y1="551.80" x2="588.3" y2="551.80" stroke="#8e8e8e" stroke-width="1.45"/><line x1="58.25" y1="589.50" x2="588.3" y2="589.50" stroke="#dadada" stroke-width="1.1"/><line x1="58.25" y1="627.20" x2="588.3" y2="627.20" stroke="#8e8e8e" stroke-width="1.45"/><line x1="58.25" y1="664.90" x2="588.3" y2="664.90" stroke="#dadada" stroke-width="1.1"/><line x1="58.25" y1="702.60" x2="588.3" y2="702.60" stroke="#8e8e8e" stroke-width="1.45"/><line x1="58.25" y1="740.30" x2="588.3" y2="740.30" stroke="#dadada" stroke-width="1.1"/><line x1="93.54" y1="476.4" x2="93.54" y2="778.0" stroke="#cdcdcd" stroke-width="1.0"/><line x1="128.83" y1="476.4" x2="128.83" y2="778.0" stroke="#3c3c3c" stroke-width="1.1"/><line x1="164.12" y1="476.4" x2="164.12" y2="778.0" stroke="#cdcdcd" stroke-width="1.0"/><line x1="199.41" y1="476.4" x2="199.41" y2="778.0" stroke="#3c3c3c" stroke-width="1.1"/><line x1="234.70" y1="476.4" x2="234.70" y2="778.0" stroke="#cdcdcd" stroke-width="1.0"/><line x1="269.99" y1="476.4" x2="269.99" y2="778.0" stroke="#3c3c3c" stroke-width="1.1"/><line x1="305.28" y1="476.4" x2="305.28" y2="778.0" stroke="#cdcdcd" stroke-width="1.0"/><line x1="340.57" y1="476.4" x2="340.57" y2="778.0" stroke="#3c3c3c" stroke-width="1.1"/><line x1="375.86" y1="476.4" x2="375.86" y2="778.0" stroke="#cdcdcd" stroke-width="1.0"/><line x1="411.15" y1="476.4" x2="411.15" y2="778.0" stroke="#3c3c3c" stroke-width="1.1"/><line x1="446.44" y1="476.4" x2="446.44" y2="778.0" stroke="#cdcdcd" stroke-width="1.0"/><line x1="481.73" y1="476.4" x2="481.73" y2="778.0" stroke="#3c3c3c" stroke-width="1.1"/><line x1="517.02" y1="476.4" x2="517.02" y2="778.0" stroke="#cdcdcd" stroke-width="1.0"/><line x1="552.31" y1="476.4" x2="552.31" y2="778.0" stroke="#3c3c3c" stroke-width="1.1"/><line x1="53.9" y1="476.40" x2="58.25" y2="476.40" stroke="#b4b4b4" stroke-width="1.2"/><line x1="55.9" y1="514.10" x2="58.25" y2="514.10" stroke="#d4d4d4" stroke-width="1"/><line x1="53.9" y1="551.80" x2="58.25" y2="551.80" stroke="#b4b4b4" stroke-width="1.2"/><line x1="55.9" y1="589.50" x2="58.25" y2="589.50" stroke="#d4d4d4" stroke-width="1"/><line x1="53.9" y1="627.20" x2="58.25" y2="627.20" stroke="#b4b4b4" stroke-width="1.2"/><line x1="55.9" y1="664.90" x2="58.25" y2="664.90" stroke="#d4d4d4" stroke-width="1"/><line x1="53.9" y1="702.60" x2="58.25" y2="702.60" stroke="#b4b4b4" stroke-width="1.2"/><line x1="55.9" y1="740.30" x2="58.25" y2="740.30" stroke="#d4d4d4" stroke-width="1"/><line x1="53.9" y1="778.00" x2="58.25" y2="778.00" stroke="#b4b4b4" stroke-width="1.2"/><line x1="58.25" y1="778.0" x2="58.25" y2="781.2" stroke="#b0b0b0" stroke-width="1"/><line x1="93.54" y1="778.0" x2="93.54" y2="781.2" stroke="#b0b0b0" stroke-width="1"/><line x1="128.83" y1="778.0" x2="128.83" y2="781.2" stroke="#b0b0b0" stroke-width="1"/><line x1="164.12" y1="778.0" x2="164.12" y2="781.2" stroke="#b0b0b0" stroke-width="1"/><line x1="199.41" y1="778.0" x2="199.41" y2="781.2" stroke="#b0b0b0" stroke-width="1"/><line x1="234.70" y1="778.0" x2="234.70" y2="781.2" stroke="#b0b0b0" stroke-width="1"/><line x1="269.99" y1="778.0" x2="269.99" y2="781.2" stroke="#b0b0b0" stroke-width="1"/><line x1="305.28" y1="778.0" x2="305.28" y2="781.2" stroke="#b0b0b0" stroke-width="1"/><line x1="340.57" y1="778.0" x2="340.57" y2="781.2" stroke="#b0b0b0" stroke-width="1"/><line x1="375.86" y1="778.0" x2="375.86" y2="781.2" stroke="#b0b0b0" stroke-width="1"/><line x1="411.15" y1="778.0" x2="411.15" y2="781.2" stroke="#b0b0b0" stroke-width="1"/><line x1="446.44" y1="778.0" x2="446.44" y2="781.2" stroke="#b0b0b0" stroke-width="1"/><line x1="481.73" y1="778.0" x2="481.73" y2="781.2" stroke="#b0b0b0" stroke-width="1"/><line x1="517.02" y1="778.0" x2="517.02" y2="781.2" stroke="#b0b0b0" stroke-width="1"/><line x1="552.31" y1="778.0" x2="552.31" y2="781.2" stroke="#b0b0b0" stroke-width="1"/><line x1="587.60" y1="778.0" x2="587.60" y2="781.2" stroke="#b0b0b0" stroke-width="1"/><clipPath id="clip476"><rect x="57.75" y="470.4" width="529.85" height="313.6"/></clipPath><g clip-path="url(#clip476)"><polyline points="58.2,627.2 65.3,627.2 72.4,627.2 79.4,628.7 86.5,629.5 93.5,627.2 100.6,620.4 107.7,627.2 114.7,630.2 121.8,643.0 128.8,621.2 135.9,569.1 142.9,607.6 150.0,640.8 157.1,639.3 164.1,625.7 171.2,615.1 178.2,567.6 185.3,652.1 192.4,633.2 199.4,557.8 206.5,504.3 213.5,614.4 220.6,653.6 227.6,630.2 234.7,634.7 241.8,642.3 248.8,649.1 255.9,632.5 262.9,623.4 270.0,584.2 277.0,623.4 284.1,663.4 291.2,642.3 298.2,657.4 305.3,633.2 312.3,627.2 319.4,619.7 326.5,618.2 333.5,627.2 340.6,624.9 347.6,578.9 354.7,643.0 361.7,627.2 368.8,616.6 375.9,624.2 382.9,636.2 390.0,576.7 397.0,621.2 404.1,591.8 411.1,645.3 418.2,628.7 425.3,631.7 432.3,600.8 439.4,627.2 446.4,628.7 453.5,670.2 460.6,628.7 467.6,610.6 474.7,608.4 481.7,619.7 488.8,658.1 495.8,628.7 502.9,481.7 510.0,645.3 517.0,665.7 524.1,639.3 531.1,610.6 538.2,661.1 545.3,719.2 552.3,658.1 559.4,569.9 566.4,607.6 573.5,536.0 580.5,588.7 587.6,610.6" fill="none" stroke="#ff1010" stroke-width="1.0" stroke-linejoin="round"/><path d="M55.2 627.2L58.2 624.7L61.2 627.2L58.2 629.7Z" fill="#ff1010"/><path d="M62.3 627.2L65.3 624.7L68.3 627.2L65.3 629.7Z" fill="#ff1010"/><path d="M69.4 627.2L72.4 624.7L75.4 627.2L72.4 629.7Z" fill="#ff1010"/><path d="M76.4 628.7L79.4 626.2L82.4 628.7L79.4 631.2Z" fill="#ff1010"/><path d="M83.5 629.5L86.5 627.0L89.5 629.5L86.5 632.0Z" fill="#ff1010"/><path d="M90.5 627.2L93.5 624.7L96.5 627.2L93.5 629.7Z" fill="#ff1010"/><path d="M97.6 620.4L100.6 617.9L103.6 620.4L100.6 622.9Z" fill="#ff1010"/><path d="M104.7 627.2L107.7 624.7L110.7 627.2L107.7 629.7Z" fill="#ff1010"/><path d="M111.7 630.2L114.7 627.7L117.7 630.2L114.7 632.7Z" fill="#ff1010"/><path d="M118.8 643.0L121.8 640.5L124.8 643.0L121.8 645.5Z" fill="#ff1010"/><path d="M125.8 621.2L128.8 618.7L131.8 621.2L128.8 623.7Z" fill="#ff1010"/><path d="M132.9 569.1L135.9 566.6L138.9 569.1L135.9 571.6Z" fill="#ff1010"/><path d="M139.9 607.6L142.9 605.1L145.9 607.6L142.9 610.1Z" fill="#ff1010"/><path d="M147.0 640.8L150.0 638.3L153.0 640.8L150.0 643.3Z" fill="#ff1010"/><path d="M154.1 639.3L157.1 636.8L160.1 639.3L157.1 641.8Z" fill="#ff1010"/><path d="M161.1 625.7L164.1 623.2L167.1 625.7L164.1 628.2Z" fill="#ff1010"/><path d="M168.2 615.1L171.2 612.6L174.2 615.1L171.2 617.6Z" fill="#ff1010"/><path d="M175.2 567.6L178.2 565.1L181.2 567.6L178.2 570.1Z" fill="#ff1010"/><path d="M182.3 652.1L185.3 649.6L188.3 652.1L185.3 654.6Z" fill="#ff1010"/><path d="M189.4 633.2L192.4 630.7L195.4 633.2L192.4 635.7Z" fill="#ff1010"/><path d="M196.4 557.8L199.4 555.3L202.4 557.8L199.4 560.3Z" fill="#ff1010"/><path d="M203.5 504.3L206.5 501.8L209.5 504.3L206.5 506.8Z" fill="#ff1010"/><path d="M210.5 614.4L213.5 611.9L216.5 614.4L213.5 616.9Z" fill="#ff1010"/><path d="M217.6 653.6L220.6 651.1L223.6 653.6L220.6 656.1Z" fill="#ff1010"/><path d="M224.6 630.2L227.6 627.7L230.6 630.2L227.6 632.7Z" fill="#ff1010"/><path d="M231.7 634.7L234.7 632.2L237.7 634.7L234.7 637.2Z" fill="#ff1010"/><path d="M238.8 642.3L241.8 639.8L244.8 642.3L241.8 644.8Z" fill="#ff1010"/><path d="M245.8 649.1L248.8 646.6L251.8 649.1L248.8 651.6Z" fill="#ff1010"/><path d="M252.9 632.5L255.9 630.0L258.9 632.5L255.9 635.0Z" fill="#ff1010"/><path d="M259.9 623.4L262.9 620.9L265.9 623.4L262.9 625.9Z" fill="#ff1010"/><path d="M267.0 584.2L270.0 581.7L273.0 584.2L270.0 586.7Z" fill="#ff1010"/><path d="M274.0 623.4L277.0 620.9L280.0 623.4L277.0 625.9Z" fill="#ff1010"/><path d="M281.1 663.4L284.1 660.9L287.1 663.4L284.1 665.9Z" fill="#ff1010"/><path d="M288.2 642.3L291.2 639.8L294.2 642.3L291.2 644.8Z" fill="#ff1010"/><path d="M295.2 657.4L298.2 654.9L301.2 657.4L298.2 659.9Z" fill="#ff1010"/><path d="M302.3 633.2L305.3 630.7L308.3 633.2L305.3 635.7Z" fill="#ff1010"/><path d="M309.3 627.2L312.3 624.7L315.3 627.2L312.3 629.7Z" fill="#ff1010"/><path d="M316.4 619.7L319.4 617.2L322.4 619.7L319.4 622.2Z" fill="#ff1010"/><path d="M323.5 618.2L326.5 615.7L329.5 618.2L326.5 620.7Z" fill="#ff1010"/><path d="M330.5 627.2L333.5 624.7L336.5 627.2L333.5 629.7Z" fill="#ff1010"/><path d="M337.6 624.9L340.6 622.4L343.6 624.9L340.6 627.4Z" fill="#ff1010"/><path d="M344.6 578.9L347.6 576.4L350.6 578.9L347.6 581.4Z" fill="#ff1010"/><path d="M351.7 643.0L354.7 640.5L357.7 643.0L354.7 645.5Z" fill="#ff1010"/><path d="M358.7 627.2L361.7 624.7L364.7 627.2L361.7 629.7Z" fill="#ff1010"/><path d="M365.8 616.6L368.8 614.1L371.8 616.6L368.8 619.1Z" fill="#ff1010"/><path d="M372.9 624.2L375.9 621.7L378.9 624.2L375.9 626.7Z" fill="#ff1010"/><path d="M379.9 636.2L382.9 633.7L385.9 636.2L382.9 638.7Z" fill="#ff1010"/><path d="M387.0 576.7L390.0 574.2L393.0 576.7L390.0 579.2Z" fill="#ff1010"/><path d="M394.0 621.2L397.0 618.7L400.0 621.2L397.0 623.7Z" fill="#ff1010"/><path d="M401.1 591.8L404.1 589.3L407.1 591.8L404.1 594.3Z" fill="#ff1010"/><path d="M408.1 645.3L411.1 642.8L414.1 645.3L411.1 647.8Z" fill="#ff1010"/><path d="M415.2 628.7L418.2 626.2L421.2 628.7L418.2 631.2Z" fill="#ff1010"/><path d="M422.3 631.7L425.3 629.2L428.3 631.7L425.3 634.2Z" fill="#ff1010"/><path d="M429.3 600.8L432.3 598.3L435.3 600.8L432.3 603.3Z" fill="#ff1010"/><path d="M436.4 627.2L439.4 624.7L442.4 627.2L439.4 629.7Z" fill="#ff1010"/><path d="M443.4 628.7L446.4 626.2L449.4 628.7L446.4 631.2Z" fill="#ff1010"/><path d="M450.5 670.2L453.5 667.7L456.5 670.2L453.5 672.7Z" fill="#ff1010"/><path d="M457.6 628.7L460.6 626.2L463.6 628.7L460.6 631.2Z" fill="#ff1010"/><path d="M464.6 610.6L467.6 608.1L470.6 610.6L467.6 613.1Z" fill="#ff1010"/><path d="M471.7 608.4L474.7 605.9L477.7 608.4L474.7 610.9Z" fill="#ff1010"/><path d="M478.7 619.7L481.7 617.2L484.7 619.7L481.7 622.2Z" fill="#ff1010"/><path d="M485.8 658.1L488.8 655.6L491.8 658.1L488.8 660.6Z" fill="#ff1010"/><path d="M492.8 628.7L495.8 626.2L498.8 628.7L495.8 631.2Z" fill="#ff1010"/><path d="M499.9 481.7L502.9 479.2L505.9 481.7L502.9 484.2Z" fill="#ff1010"/><path d="M507.0 645.3L510.0 642.8L513.0 645.3L510.0 647.8Z" fill="#ff1010"/><path d="M514.0 665.7L517.0 663.2L520.0 665.7L517.0 668.2Z" fill="#ff1010"/><path d="M521.1 639.3L524.1 636.8L527.1 639.3L524.1 641.8Z" fill="#ff1010"/><path d="M528.1 610.6L531.1 608.1L534.1 610.6L531.1 613.1Z" fill="#ff1010"/><path d="M535.2 661.1L538.2 658.6L541.2 661.1L538.2 663.6Z" fill="#ff1010"/><path d="M542.3 719.2L545.3 716.7L548.3 719.2L545.3 721.7Z" fill="#ff1010"/><path d="M549.3 658.1L552.3 655.6L555.3 658.1L552.3 660.6Z" fill="#ff1010"/><path d="M556.4 569.9L559.4 567.4L562.4 569.9L559.4 572.4Z" fill="#ff1010"/><path d="M563.4 607.6L566.4 605.1L569.4 607.6L566.4 610.1Z" fill="#ff1010"/><path d="M570.5 536.0L573.5 533.5L576.5 536.0L573.5 538.5Z" fill="#ff1010"/><path d="M577.5 588.7L580.5 586.2L583.5 588.7L580.5 591.2Z" fill="#ff1010"/><path d="M584.6 610.6L587.6 608.1L590.6 610.6L587.6 613.1Z" fill="#ff1010"/><polyline points="58.2,627.2 65.3,627.2 72.4,627.2 79.4,627.2 86.5,627.2 93.5,627.2 100.6,627.2 107.7,627.2 114.7,619.7 121.8,634.0 128.8,635.5 135.9,618.2 142.9,623.4 150.0,612.1 157.1,631.0 164.1,639.3 171.2,621.9 178.2,640.8 185.3,615.9 192.4,628.7 199.4,618.2 206.5,616.6 213.5,624.9 220.6,637.0 227.6,634.7 234.7,607.6 241.8,665.7 248.8,630.2 255.9,600.8 262.9,615.9 270.0,634.7 277.0,614.4 284.1,594.8 291.2,665.7 298.2,633.2 305.3,627.2 312.3,594.8 319.4,615.9 326.5,638.5 333.5,623.4 340.6,620.4 347.6,600.8 354.7,621.9 361.7,660.4 368.8,599.3 375.9,661.1 382.9,603.8 390.0,639.3 397.0,620.4 404.1,615.9 411.1,631.0 418.2,631.0 425.3,636.2 432.3,631.7 439.4,641.5 446.4,633.2 453.5,617.4 460.6,630.2 467.6,636.2 474.7,627.2 481.7,624.9 488.8,636.2 495.8,627.2 502.9,613.6 510.0,591.0 517.0,644.5 524.1,628.7 531.1,624.9 538.2,613.6 545.3,641.5 552.3,631.7 559.4,643.8 566.4,628.7 573.5,635.5 580.5,633.2 587.6,628.7" fill="none" stroke="#1a1aff" stroke-width="1.0" stroke-linejoin="round"/><path d="M55.2 627.2L58.2 624.7L61.2 627.2L58.2 629.7Z" fill="#1a1aff"/><path d="M62.3 627.2L65.3 624.7L68.3 627.2L65.3 629.7Z" fill="#1a1aff"/><path d="M69.4 627.2L72.4 624.7L75.4 627.2L72.4 629.7Z" fill="#1a1aff"/><path d="M76.4 627.2L79.4 624.7L82.4 627.2L79.4 629.7Z" fill="#1a1aff"/><path d="M83.5 627.2L86.5 624.7L89.5 627.2L86.5 629.7Z" fill="#1a1aff"/><path d="M90.5 627.2L93.5 624.7L96.5 627.2L93.5 629.7Z" fill="#1a1aff"/><path d="M97.6 627.2L100.6 624.7L103.6 627.2L100.6 629.7Z" fill="#1a1aff"/><path d="M104.7 627.2L107.7 624.7L110.7 627.2L107.7 629.7Z" fill="#1a1aff"/><path d="M111.7 619.7L114.7 617.2L117.7 619.7L114.7 622.2Z" fill="#1a1aff"/><path d="M118.8 634.0L121.8 631.5L124.8 634.0L121.8 636.5Z" fill="#1a1aff"/><path d="M125.8 635.5L128.8 633.0L131.8 635.5L128.8 638.0Z" fill="#1a1aff"/><path d="M132.9 618.2L135.9 615.7L138.9 618.2L135.9 620.7Z" fill="#1a1aff"/><path d="M139.9 623.4L142.9 620.9L145.9 623.4L142.9 625.9Z" fill="#1a1aff"/><path d="M147.0 612.1L150.0 609.6L153.0 612.1L150.0 614.6Z" fill="#1a1aff"/><path d="M154.1 631.0L157.1 628.5L160.1 631.0L157.1 633.5Z" fill="#1a1aff"/><path d="M161.1 639.3L164.1 636.8L167.1 639.3L164.1 641.8Z" fill="#1a1aff"/><path d="M168.2 621.9L171.2 619.4L174.2 621.9L171.2 624.4Z" fill="#1a1aff"/><path d="M175.2 640.8L178.2 638.3L181.2 640.8L178.2 643.3Z" fill="#1a1aff"/><path d="M182.3 615.9L185.3 613.4L188.3 615.9L185.3 618.4Z" fill="#1a1aff"/><path d="M189.4 628.7L192.4 626.2L195.4 628.7L192.4 631.2Z" fill="#1a1aff"/><path d="M196.4 618.2L199.4 615.7L202.4 618.2L199.4 620.7Z" fill="#1a1aff"/><path d="M203.5 616.6L206.5 614.1L209.5 616.6L206.5 619.1Z" fill="#1a1aff"/><path d="M210.5 624.9L213.5 622.4L216.5 624.9L213.5 627.4Z" fill="#1a1aff"/><path d="M217.6 637.0L220.6 634.5L223.6 637.0L220.6 639.5Z" fill="#1a1aff"/><path d="M224.6 634.7L227.6 632.2L230.6 634.7L227.6 637.2Z" fill="#1a1aff"/><path d="M231.7 607.6L234.7 605.1L237.7 607.6L234.7 610.1Z" fill="#1a1aff"/><path d="M238.8 665.7L241.8 663.2L244.8 665.7L241.8 668.2Z" fill="#1a1aff"/><path d="M245.8 630.2L248.8 627.7L251.8 630.2L248.8 632.7Z" fill="#1a1aff"/><path d="M252.9 600.8L255.9 598.3L258.9 600.8L255.9 603.3Z" fill="#1a1aff"/><path d="M259.9 615.9L262.9 613.4L265.9 615.9L262.9 618.4Z" fill="#1a1aff"/><path d="M267.0 634.7L270.0 632.2L273.0 634.7L270.0 637.2Z" fill="#1a1aff"/><path d="M274.0 614.4L277.0 611.9L280.0 614.4L277.0 616.9Z" fill="#1a1aff"/><path d="M281.1 594.8L284.1 592.3L287.1 594.8L284.1 597.3Z" fill="#1a1aff"/><path d="M288.2 665.7L291.2 663.2L294.2 665.7L291.2 668.2Z" fill="#1a1aff"/><path d="M295.2 633.2L298.2 630.7L301.2 633.2L298.2 635.7Z" fill="#1a1aff"/><path d="M302.3 627.2L305.3 624.7L308.3 627.2L305.3 629.7Z" fill="#1a1aff"/><path d="M309.3 594.8L312.3 592.3L315.3 594.8L312.3 597.3Z" fill="#1a1aff"/><path d="M316.4 615.9L319.4 613.4L322.4 615.9L319.4 618.4Z" fill="#1a1aff"/><path d="M323.5 638.5L326.5 636.0L329.5 638.5L326.5 641.0Z" fill="#1a1aff"/><path d="M330.5 623.4L333.5 620.9L336.5 623.4L333.5 625.9Z" fill="#1a1aff"/><path d="M337.6 620.4L340.6 617.9L343.6 620.4L340.6 622.9Z" fill="#1a1aff"/><path d="M344.6 600.8L347.6 598.3L350.6 600.8L347.6 603.3Z" fill="#1a1aff"/><path d="M351.7 621.9L354.7 619.4L357.7 621.9L354.7 624.4Z" fill="#1a1aff"/><path d="M358.7 660.4L361.7 657.9L364.7 660.4L361.7 662.9Z" fill="#1a1aff"/><path d="M365.8 599.3L368.8 596.8L371.8 599.3L368.8 601.8Z" fill="#1a1aff"/><path d="M372.9 661.1L375.9 658.6L378.9 661.1L375.9 663.6Z" fill="#1a1aff"/><path d="M379.9 603.8L382.9 601.3L385.9 603.8L382.9 606.3Z" fill="#1a1aff"/><path d="M387.0 639.3L390.0 636.8L393.0 639.3L390.0 641.8Z" fill="#1a1aff"/><path d="M394.0 620.4L397.0 617.9L400.0 620.4L397.0 622.9Z" fill="#1a1aff"/><path d="M401.1 615.9L404.1 613.4L407.1 615.9L404.1 618.4Z" fill="#1a1aff"/><path d="M408.1 631.0L411.1 628.5L414.1 631.0L411.1 633.5Z" fill="#1a1aff"/><path d="M415.2 631.0L418.2 628.5L421.2 631.0L418.2 633.5Z" fill="#1a1aff"/><path d="M422.3 636.2L425.3 633.7L428.3 636.2L425.3 638.7Z" fill="#1a1aff"/><path d="M429.3 631.7L432.3 629.2L435.3 631.7L432.3 634.2Z" fill="#1a1aff"/><path d="M436.4 641.5L439.4 639.0L442.4 641.5L439.4 644.0Z" fill="#1a1aff"/><path d="M443.4 633.2L446.4 630.7L449.4 633.2L446.4 635.7Z" fill="#1a1aff"/><path d="M450.5 617.4L453.5 614.9L456.5 617.4L453.5 619.9Z" fill="#1a1aff"/><path d="M457.6 630.2L460.6 627.7L463.6 630.2L460.6 632.7Z" fill="#1a1aff"/><path d="M464.6 636.2L467.6 633.7L470.6 636.2L467.6 638.7Z" fill="#1a1aff"/><path d="M471.7 627.2L474.7 624.7L477.7 627.2L474.7 629.7Z" fill="#1a1aff"/><path d="M478.7 624.9L481.7 622.4L484.7 624.9L481.7 627.4Z" fill="#1a1aff"/><path d="M485.8 636.2L488.8 633.7L491.8 636.2L488.8 638.7Z" fill="#1a1aff"/><path d="M492.8 627.2L495.8 624.7L498.8 627.2L495.8 629.7Z" fill="#1a1aff"/><path d="M499.9 613.6L502.9 611.1L505.9 613.6L502.9 616.1Z" fill="#1a1aff"/><path d="M507.0 591.0L510.0 588.5L513.0 591.0L510.0 593.5Z" fill="#1a1aff"/><path d="M514.0 644.5L517.0 642.0L520.0 644.5L517.0 647.0Z" fill="#1a1aff"/><path d="M521.1 628.7L524.1 626.2L527.1 628.7L524.1 631.2Z" fill="#1a1aff"/><path d="M528.1 624.9L531.1 622.4L534.1 624.9L531.1 627.4Z" fill="#1a1aff"/><path d="M535.2 613.6L538.2 611.1L541.2 613.6L538.2 616.1Z" fill="#1a1aff"/><path d="M542.3 641.5L545.3 639.0L548.3 641.5L545.3 644.0Z" fill="#1a1aff"/><path d="M549.3 631.7L552.3 629.2L555.3 631.7L552.3 634.2Z" fill="#1a1aff"/><path d="M556.4 643.8L559.4 641.3L562.4 643.8L559.4 646.3Z" fill="#1a1aff"/><path d="M563.4 628.7L566.4 626.2L569.4 628.7L566.4 631.2Z" fill="#1a1aff"/><path d="M570.5 635.5L573.5 633.0L576.5 635.5L573.5 638.0Z" fill="#1a1aff"/><path d="M577.5 633.2L580.5 630.7L583.5 633.2L580.5 635.7Z" fill="#1a1aff"/><path d="M584.6 628.7L587.6 626.2L590.6 628.7L587.6 631.2Z" fill="#1a1aff"/><polyline points="58.2,627.2 65.3,627.2 72.4,627.2 79.4,627.2 86.5,627.2 93.5,627.2 100.6,627.2 107.7,627.2 114.7,615.1 121.8,643.8 128.8,608.4 135.9,627.2 142.9,634.7 150.0,659.6 157.1,634.7 164.1,623.4 171.2,627.2 178.2,624.9 185.3,631.0 192.4,627.2 199.4,578.2 206.5,631.0 213.5,628.7 220.6,631.0 227.6,608.4 234.7,623.4 241.8,640.8 248.8,634.7 255.9,617.4 262.9,623.4 270.0,627.2 277.0,624.9 284.1,627.2 291.2,634.7 298.2,708.6 305.3,621.2 312.3,488.5 319.4,632.5 326.5,621.2 333.5,629.5 340.6,627.2 347.6,615.9 354.7,623.4 361.7,630.2 368.8,615.9 375.9,624.2 382.9,628.7 390.0,634.7 397.0,623.4 404.1,624.9 411.1,619.7 418.2,628.7 425.3,623.4 432.3,604.6 439.4,631.0 446.4,583.5 453.5,624.9 460.6,640.0 467.6,631.0 474.7,619.7 481.7,624.9 488.8,634.7 495.8,625.7 502.9,623.4 510.0,673.9 517.0,623.4 524.1,613.6 531.1,628.7 538.2,629.5 545.3,631.0 552.3,681.5 559.4,507.3 566.4,628.7 573.5,640.0 580.5,601.6 587.6,623.4" fill="none" stroke="#ff33ff" stroke-width="1.0" stroke-linejoin="round"/><path d="M55.2 627.2H61.2M58.2 624.5V629.9" stroke="#ff33ff" stroke-width="1" fill="none"/><path d="M62.3 627.2H68.3M65.3 624.5V629.9" stroke="#ff33ff" stroke-width="1" fill="none"/><path d="M69.4 627.2H75.4M72.4 624.5V629.9" stroke="#ff33ff" stroke-width="1" fill="none"/><path d="M76.4 627.2H82.4M79.4 624.5V629.9" stroke="#ff33ff" stroke-width="1" fill="none"/><path d="M83.5 627.2H89.5M86.5 624.5V629.9" stroke="#ff33ff" stroke-width="1" fill="none"/><path d="M90.5 627.2H96.5M93.5 624.5V629.9" stroke="#ff33ff" stroke-width="1" fill="none"/><path d="M97.6 627.2H103.6M100.6 624.5V629.9" stroke="#ff33ff" stroke-width="1" fill="none"/><path d="M104.7 627.2H110.7M107.7 624.5V629.9" stroke="#ff33ff" stroke-width="1" fill="none"/><path d="M111.7 615.1H117.7M114.7 612.4V617.8" stroke="#ff33ff" stroke-width="1" fill="none"/><path d="M118.8 643.8H124.8M121.8 641.1V646.5" stroke="#ff33ff" stroke-width="1" fill="none"/><path d="M125.8 608.4H131.8M128.8 605.6V611.1" stroke="#ff33ff" stroke-width="1" fill="none"/><path d="M132.9 627.2H138.9M135.9 624.5V629.9" stroke="#ff33ff" stroke-width="1" fill="none"/><path d="M139.9 634.7H145.9M142.9 632.0V637.4" stroke="#ff33ff" stroke-width="1" fill="none"/><path d="M147.0 659.6H153.0M150.0 656.9V662.3" stroke="#ff33ff" stroke-width="1" fill="none"/><path d="M154.1 634.7H160.1M157.1 632.0V637.4" stroke="#ff33ff" stroke-width="1" fill="none"/><path d="M161.1 623.4H167.1M164.1 620.7V626.1" stroke="#ff33ff" stroke-width="1" fill="none"/><path d="M168.2 627.2H174.2M171.2 624.5V629.9" stroke="#ff33ff" stroke-width="1" fill="none"/><path d="M175.2 624.9H181.2M178.2 622.2V627.6" stroke="#ff33ff" stroke-width="1" fill="none"/><path d="M182.3 631.0H188.3M185.3 628.3V633.7" stroke="#ff33ff" stroke-width="1" fill="none"/><path d="M189.4 627.2H195.4M192.4 624.5V629.9" stroke="#ff33ff" stroke-width="1" fill="none"/><path d="M196.4 578.2H202.4M199.4 575.5V580.9" stroke="#ff33ff" stroke-width="1" fill="none"/><path d="M203.5 631.0H209.5M206.5 628.3V633.7" stroke="#ff33ff" stroke-width="1" fill="none"/><path d="M210.5 628.7H216.5M213.5 626.0V631.4" stroke="#ff33ff" stroke-width="1" fill="none"/><path d="M217.6 631.0H223.6M220.6 628.3V633.7" stroke="#ff33ff" stroke-width="1" fill="none"/><path d="M224.6 608.4H230.6M227.6 605.6V611.1" stroke="#ff33ff" stroke-width="1" fill="none"/><path d="M231.7 623.4H237.7M234.7 620.7V626.1" stroke="#ff33ff" stroke-width="1" fill="none"/><path d="M238.8 640.8H244.8M241.8 638.1V643.5" stroke="#ff33ff" stroke-width="1" fill="none"/><path d="M245.8 634.7H251.8M248.8 632.0V637.4" stroke="#ff33ff" stroke-width="1" fill="none"/><path d="M252.9 617.4H258.9M255.9 614.7V620.1" stroke="#ff33ff" stroke-width="1" fill="none"/><path d="M259.9 623.4H265.9M262.9 620.7V626.1" stroke="#ff33ff" stroke-width="1" fill="none"/><path d="M267.0 627.2H273.0M270.0 624.5V629.9" stroke="#ff33ff" stroke-width="1" fill="none"/><path d="M274.0 624.9H280.0M277.0 622.2V627.6" stroke="#ff33ff" stroke-width="1" fill="none"/><path d="M281.1 627.2H287.1M284.1 624.5V629.9" stroke="#ff33ff" stroke-width="1" fill="none"/><path d="M288.2 634.7H294.2M291.2 632.0V637.4" stroke="#ff33ff" stroke-width="1" fill="none"/><path d="M295.2 708.6H301.2M298.2 705.9V711.3" stroke="#ff33ff" stroke-width="1" fill="none"/><path d="M302.3 621.2H308.3M305.3 618.5V623.9" stroke="#ff33ff" stroke-width="1" fill="none"/><path d="M309.3 488.5H315.3M312.3 485.8V491.2" stroke="#ff33ff" stroke-width="1" fill="none"/><path d="M316.4 632.5H322.4M319.4 629.8V635.2" stroke="#ff33ff" stroke-width="1" fill="none"/><path d="M323.5 621.2H329.5M326.5 618.5V623.9" stroke="#ff33ff" stroke-width="1" fill="none"/><path d="M330.5 629.5H336.5M333.5 626.8V632.2" stroke="#ff33ff" stroke-width="1" fill="none"/><path d="M337.6 627.2H343.6M340.6 624.5V629.9" stroke="#ff33ff" stroke-width="1" fill="none"/><path d="M344.6 615.9H350.6M347.6 613.2V618.6" stroke="#ff33ff" stroke-width="1" fill="none"/><path d="M351.7 623.4H357.7M354.7 620.7V626.1" stroke="#ff33ff" stroke-width="1" fill="none"/><path d="M358.7 630.2H364.7M361.7 627.5V632.9" stroke="#ff33ff" stroke-width="1" fill="none"/><path d="M365.8 615.9H371.8M368.8 613.2V618.6" stroke="#ff33ff" stroke-width="1" fill="none"/><path d="M372.9 624.2H378.9M375.9 621.5V626.9" stroke="#ff33ff" stroke-width="1" fill="none"/><path d="M379.9 628.7H385.9M382.9 626.0V631.4" stroke="#ff33ff" stroke-width="1" fill="none"/><path d="M387.0 634.7H393.0M390.0 632.0V637.4" stroke="#ff33ff" stroke-width="1" fill="none"/><path d="M394.0 623.4H400.0M397.0 620.7V626.1" stroke="#ff33ff" stroke-width="1" fill="none"/><path d="M401.1 624.9H407.1M404.1 622.2V627.6" stroke="#ff33ff" stroke-width="1" fill="none"/><path d="M408.1 619.7H414.1M411.1 617.0V622.4" stroke="#ff33ff" stroke-width="1" fill="none"/><path d="M415.2 628.7H421.2M418.2 626.0V631.4" stroke="#ff33ff" stroke-width="1" fill="none"/><path d="M422.3 623.4H428.3M425.3 620.7V626.1" stroke="#ff33ff" stroke-width="1" fill="none"/><path d="M429.3 604.6H435.3M432.3 601.9V607.3" stroke="#ff33ff" stroke-width="1" fill="none"/><path d="M436.4 631.0H442.4M439.4 628.3V633.7" stroke="#ff33ff" stroke-width="1" fill="none"/><path d="M443.4 583.5H449.4M446.4 580.8V586.2" stroke="#ff33ff" stroke-width="1" fill="none"/><path d="M450.5 624.9H456.5M453.5 622.2V627.6" stroke="#ff33ff" stroke-width="1" fill="none"/><path d="M457.6 640.0H463.6M460.6 637.3V642.7" stroke="#ff33ff" stroke-width="1" fill="none"/><path d="M464.6 631.0H470.6M467.6 628.3V633.7" stroke="#ff33ff" stroke-width="1" fill="none"/><path d="M471.7 619.7H477.7M474.7 617.0V622.4" stroke="#ff33ff" stroke-width="1" fill="none"/><path d="M478.7 624.9H484.7M481.7 622.2V627.6" stroke="#ff33ff" stroke-width="1" fill="none"/><path d="M485.8 634.7H491.8M488.8 632.0V637.4" stroke="#ff33ff" stroke-width="1" fill="none"/><path d="M492.8 625.7H498.8M495.8 623.0V628.4" stroke="#ff33ff" stroke-width="1" fill="none"/><path d="M499.9 623.4H505.9M502.9 620.7V626.1" stroke="#ff33ff" stroke-width="1" fill="none"/><path d="M507.0 673.9H513.0M510.0 671.2V676.6" stroke="#ff33ff" stroke-width="1" fill="none"/><path d="M514.0 623.4H520.0M517.0 620.7V626.1" stroke="#ff33ff" stroke-width="1" fill="none"/><path d="M521.1 613.6H527.1M524.1 610.9V616.3" stroke="#ff33ff" stroke-width="1" fill="none"/><path d="M528.1 628.7H534.1M531.1 626.0V631.4" stroke="#ff33ff" stroke-width="1" fill="none"/><path d="M535.2 629.5H541.2M538.2 626.8V632.2" stroke="#ff33ff" stroke-width="1" fill="none"/><path d="M542.3 631.0H548.3M545.3 628.3V633.7" stroke="#ff33ff" stroke-width="1" fill="none"/><path d="M549.3 681.5H555.3M552.3 678.8V684.2" stroke="#ff33ff" stroke-width="1" fill="none"/><path d="M556.4 507.3H562.4M559.4 504.6V510.0" stroke="#ff33ff" stroke-width="1" fill="none"/><path d="M563.4 628.7H569.4M566.4 626.0V631.4" stroke="#ff33ff" stroke-width="1" fill="none"/><path d="M570.5 640.0H576.5M573.5 637.3V642.7" stroke="#ff33ff" stroke-width="1" fill="none"/><path d="M577.5 601.6H583.5M580.5 598.9V604.3" stroke="#ff33ff" stroke-width="1" fill="none"/><path d="M584.6 623.4H590.6M587.6 620.7V626.1" stroke="#ff33ff" stroke-width="1" fill="none"/><polyline points="58.2,628.7 65.3,628.7 72.4,629.5 79.4,629.5 86.5,627.2 93.5,624.9 100.6,631.0 107.7,621.9 114.7,602.3 121.8,648.3 128.8,613.6 135.9,627.2 142.9,633.2 150.0,642.3 157.1,643.0 164.1,618.2 171.2,630.2 178.2,627.2 185.3,624.2 192.4,628.7 199.4,573.7 206.5,600.1 213.5,630.2 220.6,628.7 227.6,612.1 234.7,642.3 241.8,635.5 248.8,621.2 255.9,618.9 262.9,623.4 270.0,652.8 277.0,627.2 284.1,627.2 291.2,630.2 298.2,635.5 305.3,624.2 312.3,603.8 319.4,621.9 326.5,591.0 333.5,630.2 340.6,631.7 347.6,623.4 354.7,613.6 361.7,635.5 368.8,622.7 375.9,631.7 382.9,621.9 390.0,640.8 397.0,620.4 404.1,619.7 411.1,619.7 418.2,643.8 425.3,612.1 432.3,623.4 439.4,637.0 446.4,623.4 453.5,628.7 460.6,637.8 467.6,631.7 474.7,615.1 481.7,661.1 488.8,646.8 495.8,621.2 502.9,622.7 510.0,630.2 517.0,621.2 524.1,602.3 531.1,628.7 538.2,631.0 545.3,627.2 552.3,639.3 559.4,580.5 566.4,631.0 573.5,612.1 580.5,628.7 587.6,634.0" fill="none" stroke="#22ffff" stroke-width="1.0" stroke-linejoin="round"/><rect x="55.2" y="626.2" width="6" height="5" fill="#22ffff"/><rect x="62.3" y="626.2" width="6" height="5" fill="#22ffff"/><rect x="69.4" y="627.0" width="6" height="5" fill="#22ffff"/><rect x="76.4" y="627.0" width="6" height="5" fill="#22ffff"/><rect x="83.5" y="624.7" width="6" height="5" fill="#22ffff"/><rect x="90.5" y="622.4" width="6" height="5" fill="#22ffff"/><rect x="97.6" y="628.5" width="6" height="5" fill="#22ffff"/><rect x="104.7" y="619.4" width="6" height="5" fill="#22ffff"/><rect x="111.7" y="599.8" width="6" height="5" fill="#22ffff"/><rect x="118.8" y="645.8" width="6" height="5" fill="#22ffff"/><rect x="125.8" y="611.1" width="6" height="5" fill="#22ffff"/><rect x="132.9" y="624.7" width="6" height="5" fill="#22ffff"/><rect x="139.9" y="630.7" width="6" height="5" fill="#22ffff"/><rect x="147.0" y="639.8" width="6" height="5" fill="#22ffff"/><rect x="154.1" y="640.5" width="6" height="5" fill="#22ffff"/><rect x="161.1" y="615.7" width="6" height="5" fill="#22ffff"/><rect x="168.2" y="627.7" width="6" height="5" fill="#22ffff"/><rect x="175.2" y="624.7" width="6" height="5" fill="#22ffff"/><rect x="182.3" y="621.7" width="6" height="5" fill="#22ffff"/><rect x="189.4" y="626.2" width="6" height="5" fill="#22ffff"/><rect x="196.4" y="571.2" width="6" height="5" fill="#22ffff"/><rect x="203.5" y="597.6" width="6" height="5" fill="#22ffff"/><rect x="210.5" y="627.7" width="6" height="5" fill="#22ffff"/><rect x="217.6" y="626.2" width="6" height="5" fill="#22ffff"/><rect x="224.6" y="609.6" width="6" height="5" fill="#22ffff"/><rect x="231.7" y="639.8" width="6" height="5" fill="#22ffff"/><rect x="238.8" y="633.0" width="6" height="5" fill="#22ffff"/><rect x="245.8" y="618.7" width="6" height="5" fill="#22ffff"/><rect x="252.9" y="616.4" width="6" height="5" fill="#22ffff"/><rect x="259.9" y="620.9" width="6" height="5" fill="#22ffff"/><rect x="267.0" y="650.3" width="6" height="5" fill="#22ffff"/><rect x="274.0" y="624.7" width="6" height="5" fill="#22ffff"/><rect x="281.1" y="624.7" width="6" height="5" fill="#22ffff"/><rect x="288.2" y="627.7" width="6" height="5" fill="#22ffff"/><rect x="295.2" y="633.0" width="6" height="5" fill="#22ffff"/><rect x="302.3" y="621.7" width="6" height="5" fill="#22ffff"/><rect x="309.3" y="601.3" width="6" height="5" fill="#22ffff"/><rect x="316.4" y="619.4" width="6" height="5" fill="#22ffff"/><rect x="323.5" y="588.5" width="6" height="5" fill="#22ffff"/><rect x="330.5" y="627.7" width="6" height="5" fill="#22ffff"/><rect x="337.6" y="629.2" width="6" height="5" fill="#22ffff"/><rect x="344.6" y="620.9" width="6" height="5" fill="#22ffff"/><rect x="351.7" y="611.1" width="6" height="5" fill="#22ffff"/><rect x="358.7" y="633.0" width="6" height="5" fill="#22ffff"/><rect x="365.8" y="620.2" width="6" height="5" fill="#22ffff"/><rect x="372.9" y="629.2" width="6" height="5" fill="#22ffff"/><rect x="379.9" y="619.4" width="6" height="5" fill="#22ffff"/><rect x="387.0" y="638.3" width="6" height="5" fill="#22ffff"/><rect x="394.0" y="617.9" width="6" height="5" fill="#22ffff"/><rect x="401.1" y="617.2" width="6" height="5" fill="#22ffff"/><rect x="408.1" y="617.2" width="6" height="5" fill="#22ffff"/><rect x="415.2" y="641.3" width="6" height="5" fill="#22ffff"/><rect x="422.3" y="609.6" width="6" height="5" fill="#22ffff"/><rect x="429.3" y="620.9" width="6" height="5" fill="#22ffff"/><rect x="436.4" y="634.5" width="6" height="5" fill="#22ffff"/><rect x="443.4" y="620.9" width="6" height="5" fill="#22ffff"/><rect x="450.5" y="626.2" width="6" height="5" fill="#22ffff"/><rect x="457.6" y="635.3" width="6" height="5" fill="#22ffff"/><rect x="464.6" y="629.2" width="6" height="5" fill="#22ffff"/><rect x="471.7" y="612.6" width="6" height="5" fill="#22ffff"/><rect x="478.7" y="658.6" width="6" height="5" fill="#22ffff"/><rect x="485.8" y="644.3" width="6" height="5" fill="#22ffff"/><rect x="492.8" y="618.7" width="6" height="5" fill="#22ffff"/><rect x="499.9" y="620.2" width="6" height="5" fill="#22ffff"/><rect x="507.0" y="627.7" width="6" height="5" fill="#22ffff"/><rect x="514.0" y="618.7" width="6" height="5" fill="#22ffff"/><rect x="521.1" y="599.8" width="6" height="5" fill="#22ffff"/><rect x="528.1" y="626.2" width="6" height="5" fill="#22ffff"/><rect x="535.2" y="628.5" width="6" height="5" fill="#22ffff"/><rect x="542.3" y="624.7" width="6" height="5" fill="#22ffff"/><rect x="549.3" y="636.8" width="6" height="5" fill="#22ffff"/><rect x="556.4" y="578.0" width="6" height="5" fill="#22ffff"/><rect x="563.4" y="628.5" width="6" height="5" fill="#22ffff"/><rect x="570.5" y="609.6" width="6" height="5" fill="#22ffff"/><rect x="577.5" y="626.2" width="6" height="5" fill="#22ffff"/><rect x="584.6" y="631.5" width="6" height="5" fill="#22ffff"/><polyline points="58.2,627.2 65.3,627.2 72.4,627.2 79.4,627.2 86.5,627.2 93.5,627.2 100.6,635.9 107.7,632.7 114.7,635.5 121.8,638.5 128.8,614.4 135.9,627.2 142.9,643.0 150.0,642.3 157.1,637.0 164.1,630.2 171.2,622.7 178.2,629.5 185.3,630.2 192.4,624.2 199.4,618.9 206.5,622.7 213.5,628.7 220.6,630.2 227.6,631.7 234.7,635.5 241.8,635.9 248.8,624.1 255.9,618.7 262.9,629.2 270.0,630.7 277.0,630.7 284.1,620.8 291.2,631.8 298.2,644.5 305.3,627.0 312.3,627.8 319.4,633.1 326.5,629.3 333.5,620.8 340.6,628.7 347.6,618.7 354.7,620.8 361.7,631.2 368.8,621.9 375.9,623.7 382.9,627.3 390.0,634.1 397.0,632.5 404.1,612.1 411.1,622.3 418.2,628.7 425.3,631.8 432.3,629.8 439.4,629.6 446.4,630.3 453.5,630.1 460.6,633.2 467.6,622.0 474.7,632.7 481.7,629.0 488.8,620.0 495.8,630.7 502.9,622.8 510.0,638.5 517.0,623.4 524.1,633.2 531.1,627.5 538.2,635.4 545.3,623.3 552.3,627.8 559.4,625.7 566.4,631.1 573.5,632.8 580.5,625.2 587.6,629.3" fill="none" stroke="#22ff22" stroke-width="1.0" stroke-linejoin="round"/><ellipse cx="58.2" cy="627.2" rx="3.0" ry="2.4" fill="#22ff22"/><ellipse cx="65.3" cy="627.2" rx="3.0" ry="2.4" fill="#22ff22"/><ellipse cx="72.4" cy="627.2" rx="3.0" ry="2.4" fill="#22ff22"/><ellipse cx="79.4" cy="627.2" rx="3.0" ry="2.4" fill="#22ff22"/><ellipse cx="86.5" cy="627.2" rx="3.0" ry="2.4" fill="#22ff22"/><ellipse cx="93.5" cy="627.2" rx="3.0" ry="2.4" fill="#22ff22"/><ellipse cx="100.6" cy="635.9" rx="3.0" ry="2.4" fill="#22ff22"/><ellipse cx="107.7" cy="632.7" rx="3.0" ry="2.4" fill="#22ff22"/><ellipse cx="114.7" cy="635.5" rx="3.0" ry="2.4" fill="#22ff22"/><ellipse cx="121.8" cy="638.5" rx="3.0" ry="2.4" fill="#22ff22"/><ellipse cx="128.8" cy="614.4" rx="3.0" ry="2.4" fill="#22ff22"/><ellipse cx="135.9" cy="627.2" rx="3.0" ry="2.4" fill="#22ff22"/><ellipse cx="142.9" cy="643.0" rx="3.0" ry="2.4" fill="#22ff22"/><ellipse cx="150.0" cy="642.3" rx="3.0" ry="2.4" fill="#22ff22"/><ellipse cx="157.1" cy="637.0" rx="3.0" ry="2.4" fill="#22ff22"/><ellipse cx="164.1" cy="630.2" rx="3.0" ry="2.4" fill="#22ff22"/><ellipse cx="171.2" cy="622.7" rx="3.0" ry="2.4" fill="#22ff22"/><ellipse cx="178.2" cy="629.5" rx="3.0" ry="2.4" fill="#22ff22"/><ellipse cx="185.3" cy="630.2" rx="3.0" ry="2.4" fill="#22ff22"/><ellipse cx="192.4" cy="624.2" rx="3.0" ry="2.4" fill="#22ff22"/><ellipse cx="199.4" cy="618.9" rx="3.0" ry="2.4" fill="#22ff22"/><ellipse cx="206.5" cy="622.7" rx="3.0" ry="2.4" fill="#22ff22"/><ellipse cx="213.5" cy="628.7" rx="3.0" ry="2.4" fill="#22ff22"/><ellipse cx="220.6" cy="630.2" rx="3.0" ry="2.4" fill="#22ff22"/><ellipse cx="227.6" cy="631.7" rx="3.0" ry="2.4" fill="#22ff22"/><ellipse cx="234.7" cy="635.5" rx="3.0" ry="2.4" fill="#22ff22"/><ellipse cx="241.8" cy="635.9" rx="3.0" ry="2.4" fill="#22ff22"/><ellipse cx="248.8" cy="624.1" rx="3.0" ry="2.4" fill="#22ff22"/><ellipse cx="255.9" cy="618.7" rx="3.0" ry="2.4" fill="#22ff22"/><ellipse cx="262.9" cy="629.2" rx="3.0" ry="2.4" fill="#22ff22"/><ellipse cx="270.0" cy="630.7" rx="3.0" ry="2.4" fill="#22ff22"/><ellipse cx="277.0" cy="630.7" rx="3.0" ry="2.4" fill="#22ff22"/><ellipse cx="284.1" cy="620.8" rx="3.0" ry="2.4" fill="#22ff22"/><ellipse cx="291.2" cy="631.8" rx="3.0" ry="2.4" fill="#22ff22"/><ellipse cx="298.2" cy="644.5" rx="3.0" ry="2.4" fill="#22ff22"/><ellipse cx="305.3" cy="627.0" rx="3.0" ry="2.4" fill="#22ff22"/><ellipse cx="312.3" cy="627.8" rx="3.0" ry="2.4" fill="#22ff22"/><ellipse cx="319.4" cy="633.1" rx="3.0" ry="2.4" fill="#22ff22"/><ellipse cx="326.5" cy="629.3" rx="3.0" ry="2.4" fill="#22ff22"/><ellipse cx="333.5" cy="620.8" rx="3.0" ry="2.4" fill="#22ff22"/><ellipse cx="340.6" cy="628.7" rx="3.0" ry="2.4" fill="#22ff22"/><ellipse cx="347.6" cy="618.7" rx="3.0" ry="2.4" fill="#22ff22"/><ellipse cx="354.7" cy="620.8" rx="3.0" ry="2.4" fill="#22ff22"/><ellipse cx="361.7" cy="631.2" rx="3.0" ry="2.4" fill="#22ff22"/><ellipse cx="368.8" cy="621.9" rx="3.0" ry="2.4" fill="#22ff22"/><ellipse cx="375.9" cy="623.7" rx="3.0" ry="2.4" fill="#22ff22"/><ellipse cx="382.9" cy="627.3" rx="3.0" ry="2.4" fill="#22ff22"/><ellipse cx="390.0" cy="634.1" rx="3.0" ry="2.4" fill="#22ff22"/><ellipse cx="397.0" cy="632.5" rx="3.0" ry="2.4" fill="#22ff22"/><ellipse cx="404.1" cy="612.1" rx="3.0" ry="2.4" fill="#22ff22"/><ellipse cx="411.1" cy="622.3" rx="3.0" ry="2.4" fill="#22ff22"/><ellipse cx="418.2" cy="628.7" rx="3.0" ry="2.4" fill="#22ff22"/><ellipse cx="425.3" cy="631.8" rx="3.0" ry="2.4" fill="#22ff22"/><ellipse cx="432.3" cy="629.8" rx="3.0" ry="2.4" fill="#22ff22"/><ellipse cx="439.4" cy="629.6" rx="3.0" ry="2.4" fill="#22ff22"/><ellipse cx="446.4" cy="630.3" rx="3.0" ry="2.4" fill="#22ff22"/><ellipse cx="453.5" cy="630.1" rx="3.0" ry="2.4" fill="#22ff22"/><ellipse cx="460.6" cy="633.2" rx="3.0" ry="2.4" fill="#22ff22"/><ellipse cx="467.6" cy="622.0" rx="3.0" ry="2.4" fill="#22ff22"/><ellipse cx="474.7" cy="632.7" rx="3.0" ry="2.4" fill="#22ff22"/><ellipse cx="481.7" cy="629.0" rx="3.0" ry="2.4" fill="#22ff22"/><ellipse cx="488.8" cy="620.0" rx="3.0" ry="2.4" fill="#22ff22"/><ellipse cx="495.8" cy="630.7" rx="3.0" ry="2.4" fill="#22ff22"/><ellipse cx="502.9" cy="622.8" rx="3.0" ry="2.4" fill="#22ff22"/><ellipse cx="510.0" cy="638.5" rx="3.0" ry="2.4" fill="#22ff22"/><ellipse cx="517.0" cy="623.4" rx="3.0" ry="2.4" fill="#22ff22"/><ellipse cx="524.1" cy="633.2" rx="3.0" ry="2.4" fill="#22ff22"/><ellipse cx="531.1" cy="627.5" rx="3.0" ry="2.4" fill="#22ff22"/><ellipse cx="538.2" cy="635.4" rx="3.0" ry="2.4" fill="#22ff22"/><ellipse cx="545.3" cy="623.3" rx="3.0" ry="2.4" fill="#22ff22"/><ellipse cx="552.3" cy="627.8" rx="3.0" ry="2.4" fill="#22ff22"/><ellipse cx="559.4" cy="625.7" rx="3.0" ry="2.4" fill="#22ff22"/><ellipse cx="566.4" cy="631.1" rx="3.0" ry="2.4" fill="#22ff22"/><ellipse cx="573.5" cy="632.8" rx="3.0" ry="2.4" fill="#22ff22"/><ellipse cx="580.5" cy="625.2" rx="3.0" ry="2.4" fill="#22ff22"/><ellipse cx="587.6" cy="629.3" rx="3.0" ry="2.4" fill="#22ff22"/><polyline points="58.2,627.2 65.3,627.2 72.4,627.2 79.4,627.2 86.5,627.2 93.5,627.2 100.6,627.4 107.7,627.7 114.7,620.4 121.8,630.2 128.8,623.4 135.9,637.0 142.9,627.2 150.0,621.2 157.1,624.2 164.1,624.9 171.2,625.7 178.2,625.7 185.3,628.0 192.4,628.0 199.4,625.7 206.5,620.4 213.5,627.2 220.6,624.2 227.6,621.2 234.7,630.2 241.8,625.7 248.8,626.1 255.9,628.6 262.9,630.4 270.0,629.3 277.0,622.2 284.1,623.9 291.2,625.3 298.2,627.5 305.3,629.3 312.3,628.8 319.4,624.8 326.5,627.9 333.5,622.6 340.6,631.1 347.6,653.6 354.7,623.2 361.7,626.9 368.8,630.1 375.9,627.5 382.9,625.7 390.0,632.4 397.0,627.3 404.1,627.5 411.1,627.7 418.2,627.2 425.3,629.8 432.3,628.0 439.4,626.8 446.4,628.2 453.5,627.1 460.6,623.9 467.6,623.9 474.7,630.5 481.7,630.1 488.8,626.3 495.8,631.7 502.9,622.6 510.0,631.0 517.0,629.7 524.1,631.2 531.1,623.1 538.2,629.9 545.3,623.4 552.3,631.7 559.4,616.6 566.4,631.4 573.5,625.0 580.5,631.6 587.6,629.4" fill="none" stroke="#8a0000" stroke-width="1.0" stroke-linejoin="round"/><path d="M55.2 627.2L58.2 624.7L61.2 627.2L58.2 629.7Z" fill="#8a0000"/><path d="M62.3 627.2L65.3 624.7L68.3 627.2L65.3 629.7Z" fill="#8a0000"/><path d="M69.4 627.2L72.4 624.7L75.4 627.2L72.4 629.7Z" fill="#8a0000"/><path d="M76.4 627.2L79.4 624.7L82.4 627.2L79.4 629.7Z" fill="#8a0000"/><path d="M83.5 627.2L86.5 624.7L89.5 627.2L86.5 629.7Z" fill="#8a0000"/><path d="M90.5 627.2L93.5 624.7L96.5 627.2L93.5 629.7Z" fill="#8a0000"/><path d="M97.6 627.4L100.6 624.9L103.6 627.4L100.6 629.9Z" fill="#8a0000"/><path d="M104.7 627.7L107.7 625.2L110.7 627.7L107.7 630.2Z" fill="#8a0000"/><path d="M111.7 620.4L114.7 617.9L117.7 620.4L114.7 622.9Z" fill="#8a0000"/><path d="M118.8 630.2L121.8 627.7L124.8 630.2L121.8 632.7Z" fill="#8a0000"/><path d="M125.8 623.4L128.8 620.9L131.8 623.4L128.8 625.9Z" fill="#8a0000"/><path d="M132.9 637.0L135.9 634.5L138.9 637.0L135.9 639.5Z" fill="#8a0000"/><path d="M139.9 627.2L142.9 624.7L145.9 627.2L142.9 629.7Z" fill="#8a0000"/><path d="M147.0 621.2L150.0 618.7L153.0 621.2L150.0 623.7Z" fill="#8a0000"/><path d="M154.1 624.2L157.1 621.7L160.1 624.2L157.1 626.7Z" fill="#8a0000"/><path d="M161.1 624.9L164.1 622.4L167.1 624.9L164.1 627.4Z" fill="#8a0000"/><path d="M168.2 625.7L171.2 623.2L174.2 625.7L171.2 628.2Z" fill="#8a0000"/><path d="M175.2 625.7L178.2 623.2L181.2 625.7L178.2 628.2Z" fill="#8a0000"/><path d="M182.3 628.0L185.3 625.5L188.3 628.0L185.3 630.5Z" fill="#8a0000"/><path d="M189.4 628.0L192.4 625.5L195.4 628.0L192.4 630.5Z" fill="#8a0000"/><path d="M196.4 625.7L199.4 623.2L202.4 625.7L199.4 628.2Z" fill="#8a0000"/><path d="M203.5 620.4L206.5 617.9L209.5 620.4L206.5 622.9Z" fill="#8a0000"/><path d="M210.5 627.2L213.5 624.7L216.5 627.2L213.5 629.7Z" fill="#8a0000"/><path d="M217.6 624.2L220.6 621.7L223.6 624.2L220.6 626.7Z" fill="#8a0000"/><path d="M224.6 621.2L227.6 618.7L230.6 621.2L227.6 623.7Z" fill="#8a0000"/><path d="M231.7 630.2L234.7 627.7L237.7 630.2L234.7 632.7Z" fill="#8a0000"/><path d="M238.8 625.7L241.8 623.2L244.8 625.7L241.8 628.2Z" fill="#8a0000"/><path d="M245.8 626.1L248.8 623.6L251.8 626.1L248.8 628.6Z" fill="#8a0000"/><path d="M252.9 628.6L255.9 626.1L258.9 628.6L255.9 631.1Z" fill="#8a0000"/><path d="M259.9 630.4L262.9 627.9L265.9 630.4L262.9 632.9Z" fill="#8a0000"/><path d="M267.0 629.3L270.0 626.8L273.0 629.3L270.0 631.8Z" fill="#8a0000"/><path d="M274.0 622.2L277.0 619.7L280.0 622.2L277.0 624.7Z" fill="#8a0000"/><path d="M281.1 623.9L284.1 621.4L287.1 623.9L284.1 626.4Z" fill="#8a0000"/><path d="M288.2 625.3L291.2 622.8L294.2 625.3L291.2 627.8Z" fill="#8a0000"/><path d="M295.2 627.5L298.2 625.0L301.2 627.5L298.2 630.0Z" fill="#8a0000"/><path d="M302.3 629.3L305.3 626.8L308.3 629.3L305.3 631.8Z" fill="#8a0000"/><path d="M309.3 628.8L312.3 626.3L315.3 628.8L312.3 631.3Z" fill="#8a0000"/><path d="M316.4 624.8L319.4 622.3L322.4 624.8L319.4 627.3Z" fill="#8a0000"/><path d="M323.5 627.9L326.5 625.4L329.5 627.9L326.5 630.4Z" fill="#8a0000"/><path d="M330.5 622.6L333.5 620.1L336.5 622.6L333.5 625.1Z" fill="#8a0000"/><path d="M337.6 631.1L340.6 628.6L343.6 631.1L340.6 633.6Z" fill="#8a0000"/><path d="M344.6 653.6L347.6 651.1L350.6 653.6L347.6 656.1Z" fill="#8a0000"/><path d="M351.7 623.2L354.7 620.7L357.7 623.2L354.7 625.7Z" fill="#8a0000"/><path d="M358.7 626.9L361.7 624.4L364.7 626.9L361.7 629.4Z" fill="#8a0000"/><path d="M365.8 630.1L368.8 627.6L371.8 630.1L368.8 632.6Z" fill="#8a0000"/><path d="M372.9 627.5L375.9 625.0L378.9 627.5L375.9 630.0Z" fill="#8a0000"/><path d="M379.9 625.7L382.9 623.2L385.9 625.7L382.9 628.2Z" fill="#8a0000"/><path d="M387.0 632.4L390.0 629.9L393.0 632.4L390.0 634.9Z" fill="#8a0000"/><path d="M394.0 627.3L397.0 624.8L400.0 627.3L397.0 629.8Z" fill="#8a0000"/><path d="M401.1 627.5L404.1 625.0L407.1 627.5L404.1 630.0Z" fill="#8a0000"/><path d="M408.1 627.7L411.1 625.2L414.1 627.7L411.1 630.2Z" fill="#8a0000"/><path d="M415.2 627.2L418.2 624.7L421.2 627.2L418.2 629.7Z" fill="#8a0000"/><path d="M422.3 629.8L425.3 627.3L428.3 629.8L425.3 632.3Z" fill="#8a0000"/><path d="M429.3 628.0L432.3 625.5L435.3 628.0L432.3 630.5Z" fill="#8a0000"/><path d="M436.4 626.8L439.4 624.3L442.4 626.8L439.4 629.3Z" fill="#8a0000"/><path d="M443.4 628.2L446.4 625.7L449.4 628.2L446.4 630.7Z" fill="#8a0000"/><path d="M450.5 627.1L453.5 624.6L456.5 627.1L453.5 629.6Z" fill="#8a0000"/><path d="M457.6 623.9L460.6 621.4L463.6 623.9L460.6 626.4Z" fill="#8a0000"/><path d="M464.6 623.9L467.6 621.4L470.6 623.9L467.6 626.4Z" fill="#8a0000"/><path d="M471.7 630.5L474.7 628.0L477.7 630.5L474.7 633.0Z" fill="#8a0000"/><path d="M478.7 630.1L481.7 627.6L484.7 630.1L481.7 632.6Z" fill="#8a0000"/><path d="M485.8 626.3L488.8 623.8L491.8 626.3L488.8 628.8Z" fill="#8a0000"/><path d="M492.8 631.7L495.8 629.2L498.8 631.7L495.8 634.2Z" fill="#8a0000"/><path d="M499.9 622.6L502.9 620.1L505.9 622.6L502.9 625.1Z" fill="#8a0000"/><path d="M507.0 631.0L510.0 628.5L513.0 631.0L510.0 633.5Z" fill="#8a0000"/><path d="M514.0 629.7L517.0 627.2L520.0 629.7L517.0 632.2Z" fill="#8a0000"/><path d="M521.1 631.2L524.1 628.7L527.1 631.2L524.1 633.7Z" fill="#8a0000"/><path d="M528.1 623.1L531.1 620.6L534.1 623.1L531.1 625.6Z" fill="#8a0000"/><path d="M535.2 629.9L538.2 627.4L541.2 629.9L538.2 632.4Z" fill="#8a0000"/><path d="M542.3 623.4L545.3 620.9L548.3 623.4L545.3 625.9Z" fill="#8a0000"/><path d="M549.3 631.7L552.3 629.2L555.3 631.7L552.3 634.2Z" fill="#8a0000"/><path d="M556.4 616.6L559.4 614.1L562.4 616.6L559.4 619.1Z" fill="#8a0000"/><path d="M563.4 631.4L566.4 628.9L569.4 631.4L566.4 633.9Z" fill="#8a0000"/><path d="M570.5 625.0L573.5 622.5L576.5 625.0L573.5 627.5Z" fill="#8a0000"/><path d="M577.5 631.6L580.5 629.1L583.5 631.6L580.5 634.1Z" fill="#8a0000"/><path d="M584.6 629.4L587.6 626.9L590.6 629.4L587.6 631.9Z" fill="#8a0000"/><ellipse cx="199.4" cy="573.7" rx="6" ry="4.6" fill="none" stroke="#eb8c1e" stroke-width="1.5"/><ellipse cx="241.8" cy="665.7" rx="6" ry="4.6" fill="none" stroke="#eb8c1e" stroke-width="1.5"/><ellipse cx="298.2" cy="708.6" rx="6" ry="4.6" fill="none" stroke="#eb8c1e" stroke-width="1.5"/><ellipse cx="298.2" cy="644.5" rx="6" ry="4.6" fill="none" stroke="#eb8c1e" stroke-width="1.5"/><ellipse cx="312.3" cy="488.5" rx="6" ry="4.6" fill="none" stroke="#eb8c1e" stroke-width="1.5"/><ellipse cx="347.6" cy="653.6" rx="6" ry="4.6" fill="none" stroke="#eb8c1e" stroke-width="1.5"/><ellipse cx="404.1" cy="612.1" rx="6" ry="4.6" fill="none" stroke="#eb8c1e" stroke-width="1.5"/><ellipse cx="481.7" cy="661.1" rx="6" ry="4.6" fill="none" stroke="#eb8c1e" stroke-width="1.5"/><ellipse cx="502.9" cy="481.7" rx="6" ry="4.6" fill="none" stroke="#eb8c1e" stroke-width="1.5"/><ellipse cx="510.0" cy="591.0" rx="6" ry="4.6" fill="none" stroke="#eb8c1e" stroke-width="1.5"/><ellipse cx="545.3" cy="719.2" rx="6" ry="4.6" fill="none" stroke="#eb8c1e" stroke-width="1.5"/><ellipse cx="559.4" cy="616.6" rx="6" ry="4.6" fill="none" stroke="#eb8c1e" stroke-width="1.5"/></g><line x1="58.25" y1="476.59999999999997" x2="589.0" y2="476.59999999999997" stroke="#555" stroke-width="1.4"/><line x1="588.3" y1="476.4" x2="588.3" y2="778.0" stroke="#555" stroke-width="1.4"/><line x1="58.25" y1="476.4" x2="58.25" y2="778.0" stroke="#4a4a4a" stroke-width="1.3"/><line x1="57.65" y1="778.0" x2="588.3" y2="778.0" stroke="#111" stroke-width="1.4"/><text x="52.6" y="479.20" font-family="Liberation Sans, sans-serif" font-size="8.5" fill="#2e2e2e" stroke="#2e2e2e" stroke-width="0.15" text-anchor="end" textLength="24.2" lengthAdjust="spacingAndGlyphs">0.200</text><text x="52.6" y="554.60" font-family="Liberation Sans, sans-serif" font-size="8.5" fill="#2e2e2e" stroke="#2e2e2e" stroke-width="0.15" text-anchor="end" textLength="24.2" lengthAdjust="spacingAndGlyphs">0.100</text><text x="52.6" y="630.00" font-family="Liberation Sans, sans-serif" font-size="8.5" fill="#2e2e2e" stroke="#2e2e2e" stroke-width="0.15" text-anchor="end" textLength="18.4" lengthAdjust="spacingAndGlyphs">0.00</text><text x="52.6" y="705.40" font-family="Liberation Sans, sans-serif" font-size="8.5" fill="#2e2e2e" stroke="#2e2e2e" stroke-width="0.15" text-anchor="end" textLength="27.5" lengthAdjust="spacingAndGlyphs">-0.100</text><text x="52.6" y="780.80" font-family="Liberation Sans, sans-serif" font-size="8.5" fill="#2e2e2e" stroke="#2e2e2e" stroke-width="0.15" text-anchor="end" textLength="27.5" lengthAdjust="spacingAndGlyphs">-0.200</text><text x="58.25" y="788.80" font-family="Liberation Sans, sans-serif" font-size="8.5" fill="#2e2e2e" stroke="#2e2e2e" stroke-width="0.15" text-anchor="middle" textLength="18.4" lengthAdjust="spacingAndGlyphs">0.00</text><text x="128.83" y="788.80" font-family="Liberation Sans, sans-serif" font-size="8.5" fill="#2e2e2e" stroke="#2e2e2e" stroke-width="0.15" text-anchor="middle" textLength="18.4" lengthAdjust="spacingAndGlyphs">2.00</text><text x="199.41" y="788.80" font-family="Liberation Sans, sans-serif" font-size="8.5" fill="#2e2e2e" stroke="#2e2e2e" stroke-width="0.15" text-anchor="middle" textLength="18.4" lengthAdjust="spacingAndGlyphs">4.00</text><text x="269.99" y="788.80" font-family="Liberation Sans, sans-serif" font-size="8.5" fill="#2e2e2e" stroke="#2e2e2e" stroke-width="0.15" text-anchor="middle" textLength="18.4" lengthAdjust="spacingAndGlyphs">6.00</text><text x="340.57" y="788.80" font-family="Liberation Sans, sans-serif" font-size="8.5" fill="#2e2e2e" stroke="#2e2e2e" stroke-width="0.15" text-anchor="middle" textLength="18.4" lengthAdjust="spacingAndGlyphs">8.00</text><text x="411.15" y="788.80" font-family="Liberation Sans, sans-serif" font-size="8.5" fill="#2e2e2e" stroke="#2e2e2e" stroke-width="0.15" text-anchor="middle" textLength="18.4" lengthAdjust="spacingAndGlyphs">10.0</text><text x="481.73" y="788.80" font-family="Liberation Sans, sans-serif" font-size="8.5" fill="#2e2e2e" stroke="#2e2e2e" stroke-width="0.15" text-anchor="middle" textLength="18.4" lengthAdjust="spacingAndGlyphs">12.0</text><text x="552.31" y="788.80" font-family="Liberation Sans, sans-serif" font-size="8.5" fill="#2e2e2e" stroke="#2e2e2e" stroke-width="0.15" text-anchor="middle" textLength="18.4" lengthAdjust="spacingAndGlyphs">14.0</text><rect x="596.3" y="21.4" width="87.40000000000009" height="107.0" fill="#fff" stroke="#5a5a5a" stroke-width="1"/><line x1="684.2" y1="21.4" x2="684.2" y2="129.4" stroke="#999" stroke-width="1"/><line x1="596.3" y1="129.0" x2="684.2" y2="129.0" stroke="#888" stroke-width="1"/><text x="606.7" y="34.8" font-family="Liberation Sans, sans-serif" font-size="12.3" fill="#111" stroke="#111" stroke-width="0.15" textLength="52.8" lengthAdjust="spacingAndGlyphs">Chart 4</text><line x1="602.2" y1="45.60" x2="618.7" y2="45.60" stroke="#1a1aff" stroke-width="1"/><ellipse cx="609.8" cy="45.6" rx="3.0" ry="2.4" fill="#1a1aff"/><text x="625" y="48.90" font-family="Liberation Sans, sans-serif" font-size="9.6" fill="#2e2e2e" stroke="#2e2e2e" stroke-width="0.08" textLength="53" lengthAdjust="spacingAndGlyphs">Pile cap 01</text><line x1="602.2" y1="56.30" x2="618.7" y2="56.30" stroke="#ff1010" stroke-width="1"/><path d="M606.8 56.3L609.8 53.8L612.8 56.3L609.8 58.8Z" fill="#ff1010"/><text x="625" y="59.60" font-family="Liberation Sans, sans-serif" font-size="9.6" fill="#2e2e2e" stroke="#2e2e2e" stroke-width="0.08" textLength="53" lengthAdjust="spacingAndGlyphs">Pile cap 02</text><line x1="602.2" y1="67.00" x2="618.7" y2="67.00" stroke="#ff33ff" stroke-width="1"/><path d="M606.8 67.0H612.8M609.8 64.3V69.7" stroke="#ff33ff" stroke-width="1" fill="none"/><text x="625" y="70.30" font-family="Liberation Sans, sans-serif" font-size="9.6" fill="#2e2e2e" stroke="#2e2e2e" stroke-width="0.08" textLength="53" lengthAdjust="spacingAndGlyphs">Pile cap 03</text><line x1="602.2" y1="77.70" x2="618.7" y2="77.70" stroke="#22ffff" stroke-width="1"/><rect x="606.8" y="75.2" width="6" height="5" fill="#22ffff"/><text x="625" y="81.00" font-family="Liberation Sans, sans-serif" font-size="9.6" fill="#2e2e2e" stroke="#2e2e2e" stroke-width="0.08" textLength="53" lengthAdjust="spacingAndGlyphs">Pile cap 04</text><line x1="602.2" y1="88.40" x2="618.7" y2="88.40" stroke="#22ff22" stroke-width="1"/><ellipse cx="609.8" cy="88.4" rx="3.0" ry="2.4" fill="#22ff22"/><text x="625" y="91.70" font-family="Liberation Sans, sans-serif" font-size="9.6" fill="#2e2e2e" stroke="#2e2e2e" stroke-width="0.08" textLength="53" lengthAdjust="spacingAndGlyphs">Pile cap 05</text><line x1="602.2" y1="99.10" x2="618.7" y2="99.10" stroke="#8a0000" stroke-width="1"/><path d="M606.8 99.1L609.8 96.6L612.8 99.1L609.8 101.6Z" fill="#8a0000"/><text x="625" y="102.40" font-family="Liberation Sans, sans-serif" font-size="9.6" fill="#2e2e2e" stroke="#2e2e2e" stroke-width="0.08" textLength="53" lengthAdjust="spacingAndGlyphs">Pile cap 06</text><line x1="602.2" y1="109.80" x2="618.7" y2="109.80" stroke="#ffff22" stroke-width="1"/><path d="M606.8 109.8H612.8M609.8 107.1V112.5" stroke="#ffff22" stroke-width="1" fill="none"/><text x="625" y="113.10" font-family="Liberation Sans, sans-serif" font-size="9.6" fill="#2e2e2e" stroke="#2e2e2e" stroke-width="0.08" textLength="53" lengthAdjust="spacingAndGlyphs">Pile cap 07</text><line x1="602.2" y1="120.50" x2="618.7" y2="120.50" stroke="#808000" stroke-width="1"/><rect x="606.8" y="118.0" width="6" height="5" fill="#808000"/><text x="625" y="123.80" font-family="Liberation Sans, sans-serif" font-size="9.6" fill="#2e2e2e" stroke="#2e2e2e" stroke-width="0.08" textLength="53" lengthAdjust="spacingAndGlyphs">Pile cap 08</text><rect x="596.3" y="495.3" width="87.40000000000009" height="82.69999999999999" fill="#fff" stroke="#5a5a5a" stroke-width="1"/><line x1="684.2" y1="495.3" x2="684.2" y2="579.0" stroke="#999" stroke-width="1"/><line x1="596.3" y1="578.6" x2="684.2" y2="578.6" stroke="#888" stroke-width="1"/><text x="606.7" y="508.0" font-family="Liberation Sans, sans-serif" font-size="12.3" fill="#111" stroke="#111" stroke-width="0.15" textLength="62.4" lengthAdjust="spacingAndGlyphs">Chart 15</text><line x1="602.2" y1="518.60" x2="618.7" y2="518.60" stroke="#ff1010" stroke-width="1"/><path d="M606.8 518.6L609.8 516.1L612.8 518.6L609.8 521.1Z" fill="#ff1010"/><text x="625" y="521.90" font-family="Liberation Sans, sans-serif" font-size="9.6" fill="#2e2e2e" stroke="#2e2e2e" stroke-width="0.08" textLength="53" lengthAdjust="spacingAndGlyphs">Pile cap 02</text><line x1="602.2" y1="528.95" x2="618.7" y2="528.95" stroke="#1a1aff" stroke-width="1"/><path d="M606.8 529.0L609.8 526.5L612.8 529.0L609.8 531.5Z" fill="#1a1aff"/><text x="625" y="532.25" font-family="Liberation Sans, sans-serif" font-size="9.6" fill="#2e2e2e" stroke="#2e2e2e" stroke-width="0.08" textLength="53" lengthAdjust="spacingAndGlyphs">Pile cap 03</text><line x1="602.2" y1="539.30" x2="618.7" y2="539.30" stroke="#ff33ff" stroke-width="1"/><path d="M606.8 539.3H612.8M609.8 536.6V542.0" stroke="#ff33ff" stroke-width="1" fill="none"/><text x="625" y="542.60" font-family="Liberation Sans, sans-serif" font-size="9.6" fill="#2e2e2e" stroke="#2e2e2e" stroke-width="0.08" textLength="53" lengthAdjust="spacingAndGlyphs">Pile cap 04</text><line x1="602.2" y1="549.65" x2="618.7" y2="549.65" stroke="#22ffff" stroke-width="1"/><rect x="606.8" y="547.1" width="6" height="5" fill="#22ffff"/><text x="625" y="552.95" font-family="Liberation Sans, sans-serif" font-size="9.6" fill="#2e2e2e" stroke="#2e2e2e" stroke-width="0.08" textLength="53" lengthAdjust="spacingAndGlyphs">Pile cap 05</text><line x1="602.2" y1="560.00" x2="618.7" y2="560.00" stroke="#22ff22" stroke-width="1"/><ellipse cx="609.8" cy="560.0" rx="3.0" ry="2.4" fill="#22ff22"/><text x="625" y="563.30" font-family="Liberation Sans, sans-serif" font-size="9.6" fill="#2e2e2e" stroke="#2e2e2e" stroke-width="0.08" textLength="53" lengthAdjust="spacingAndGlyphs">Pile cap 06</text><line x1="602.2" y1="570.35" x2="618.7" y2="570.35" stroke="#8a0000" stroke-width="1"/><path d="M606.8 570.4L609.8 567.9L612.8 570.4L609.8 572.9Z" fill="#8a0000"/><text x="625" y="573.65" font-family="Liberation Sans, sans-serif" font-size="9.6" fill="#2e2e2e" stroke="#2e2e2e" stroke-width="0.08" textLength="53" lengthAdjust="spacingAndGlyphs">Pile cap 07</text><text x="337.7" y="411.8" font-family="Liberation Serif, serif" font-size="17" fill="#1414ff" stroke="#1414ff" stroke-width="0.1">a)</text><text x="338" y="877.2" font-family="Liberation Serif, serif" font-size="16.3" fill="#1414ff">b)</text><text x="268.4" y="823.1" font-family="Liberation Serif, serif" font-size="14.2" fill="#111" textLength="93.8" lengthAdjust="spacingAndGlyphs">Dynamic time (s)</text><text transform="translate(10.8,656.3) rotate(-90)" font-family="Liberation Serif, serif" font-size="15" fill="#111" textLength="86.8" lengthAdjust="spacingAndGlyphs">Acceleration (g)</text>
</svg>
</body></html>
